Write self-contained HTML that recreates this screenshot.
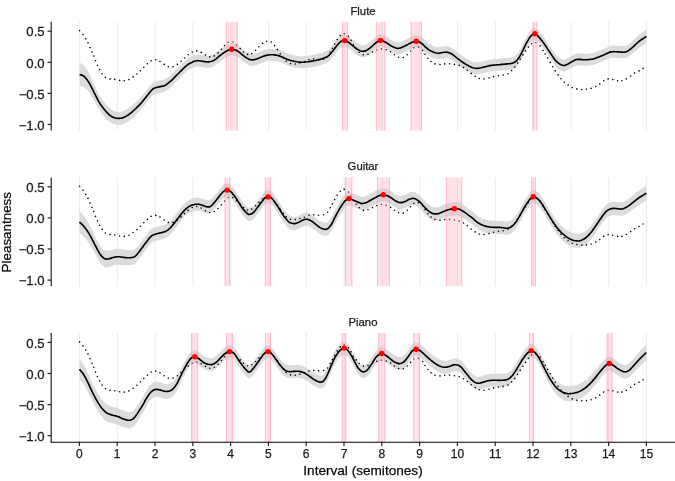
<!DOCTYPE html>
<html><head><meta charset="utf-8"><style>
html,body{margin:0;padding:0;background:#fff;}
svg{display:block;} svg text{stroke:#1a1a1a;stroke-width:0.25px;} svg{font-family:"Liberation Sans",sans-serif;filter:blur(0.3px);}
</style></head><body>
<svg width="675" height="481" viewBox="0 0 675 481">
<rect width="675" height="481" fill="#fff"/>
<defs><clipPath id="c0"><rect x="79.40" y="21.80" width="567.00" height="108.80"/></clipPath><clipPath id="c1"><rect x="79.40" y="177.40" width="567.00" height="108.80"/></clipPath><clipPath id="c2"><rect x="79.40" y="333.00" width="567.00" height="108.80"/></clipPath></defs>
<line x1="79.55" y1="21.80" x2="79.55" y2="130.60" stroke="#ededed" stroke-width="1.1"/>
<line x1="117.35" y1="21.80" x2="117.35" y2="130.60" stroke="#ededed" stroke-width="1.1"/>
<line x1="155.15" y1="21.80" x2="155.15" y2="130.60" stroke="#ededed" stroke-width="1.1"/>
<line x1="192.95" y1="21.80" x2="192.95" y2="130.60" stroke="#ededed" stroke-width="1.1"/>
<line x1="230.75" y1="21.80" x2="230.75" y2="130.60" stroke="#ededed" stroke-width="1.1"/>
<line x1="268.55" y1="21.80" x2="268.55" y2="130.60" stroke="#ededed" stroke-width="1.1"/>
<line x1="306.35" y1="21.80" x2="306.35" y2="130.60" stroke="#ededed" stroke-width="1.1"/>
<line x1="344.15" y1="21.80" x2="344.15" y2="130.60" stroke="#ededed" stroke-width="1.1"/>
<line x1="381.95" y1="21.80" x2="381.95" y2="130.60" stroke="#ededed" stroke-width="1.1"/>
<line x1="419.75" y1="21.80" x2="419.75" y2="130.60" stroke="#ededed" stroke-width="1.1"/>
<line x1="457.55" y1="21.80" x2="457.55" y2="130.60" stroke="#ededed" stroke-width="1.1"/>
<line x1="495.35" y1="21.80" x2="495.35" y2="130.60" stroke="#ededed" stroke-width="1.1"/>
<line x1="533.15" y1="21.80" x2="533.15" y2="130.60" stroke="#ededed" stroke-width="1.1"/>
<line x1="570.95" y1="21.80" x2="570.95" y2="130.60" stroke="#ededed" stroke-width="1.1"/>
<line x1="608.75" y1="21.80" x2="608.75" y2="130.60" stroke="#ededed" stroke-width="1.1"/>
<line x1="646.55" y1="21.80" x2="646.55" y2="130.60" stroke="#ededed" stroke-width="1.1"/>
<path d="M79.6,63.0 L80.1,63.2 L80.9,63.4 L81.7,63.8 L82.6,64.3 L83.4,64.9 L84.1,65.5 L84.7,66.3 L85.3,67.1 L86.0,68.0 L86.6,69.0 L87.3,70.0 L87.9,71.1 L88.6,72.3 L89.2,73.6 L89.9,74.9 L90.5,76.3 L91.2,77.7 L91.8,79.2 L92.5,80.7 L93.1,82.2 L93.8,83.6 L94.4,85.1 L95.1,86.5 L95.7,87.9 L96.4,89.3 L97.0,90.6 L97.6,91.8 L98.2,93.0 L98.9,94.2 L99.6,95.4 L100.4,96.6 L101.2,97.9 L102.1,99.1 L103.0,100.4 L103.9,101.5 L104.8,102.7 L105.7,103.8 L106.5,104.9 L107.4,105.9 L108.3,106.8 L109.1,107.6 L110.0,108.4 L110.8,109.1 L111.7,109.8 L112.6,110.3 L113.6,110.8 L114.7,111.2 L115.8,111.6 L116.9,111.8 L118.0,111.9 L119.1,111.9 L120.2,111.9 L121.2,111.7 L122.3,111.5 L123.4,111.1 L124.5,110.7 L125.6,110.1 L126.6,109.5 L127.7,108.8 L128.8,108.0 L129.9,107.2 L131.0,106.3 L132.2,105.4 L133.2,104.4 L134.2,103.6 L135.1,102.8 L135.9,102.1 L136.6,101.3 L137.3,100.6 L138.0,99.9 L138.7,99.3 L139.3,98.7 L139.9,98.1 L140.6,97.4 L141.4,96.4 L142.4,95.3 L143.5,93.9 L144.7,92.4 L145.9,90.8 L147.1,89.4 L148.3,87.9 L149.5,86.4 L150.7,84.9 L151.9,83.6 L153.1,82.5 L154.3,81.8 L155.5,81.4 L156.6,81.1 L157.8,80.9 L159.0,80.6 L160.2,80.3 L161.4,80.1 L162.5,79.9 L163.7,79.6 L164.9,79.2 L166.1,78.5 L167.3,77.7 L168.5,76.7 L169.7,75.7 L170.9,74.7 L172.1,73.6 L173.3,72.4 L174.5,71.2 L175.7,70.0 L176.8,68.9 L177.9,67.9 L178.9,66.9 L179.8,65.9 L180.8,65.0 L181.7,64.1 L182.6,63.3 L183.4,62.4 L184.3,61.5 L185.1,60.7 L186.0,60.0 L186.9,59.3 L187.7,58.6 L188.6,58.0 L189.6,57.4 L190.6,56.9 L191.8,56.4 L193.0,55.8 L194.3,55.3 L195.6,55.0 L196.8,54.7 L197.9,54.6 L198.9,54.7 L200.0,54.9 L201.0,55.0 L202.1,55.2 L203.3,55.4 L204.5,55.6 L205.8,55.8 L207.1,55.9 L208.3,55.9 L209.5,55.7 L210.7,55.5 L211.9,55.1 L213.0,54.7 L214.1,54.2 L215.1,53.6 L216.0,52.9 L216.9,52.1 L217.8,51.3 L218.9,50.4 L220.1,49.5 L221.5,48.4 L222.9,47.4 L224.3,46.4 L225.6,45.6 L226.9,44.9 L228.1,44.3 L229.4,43.8 L230.6,43.5 L231.8,43.3 L233.0,43.4 L234.3,43.7 L235.5,44.1 L236.6,44.6 L237.6,45.1 L238.4,45.6 L239.1,46.1 L239.7,46.6 L240.4,47.2 L241.1,47.8 L241.9,48.5 L242.8,49.2 L243.7,49.9 L244.6,50.7 L245.6,51.3 L246.6,51.9 L247.7,52.5 L248.7,53.1 L249.8,53.5 L250.9,53.8 L251.9,53.9 L252.9,53.9 L254.0,53.7 L255.0,53.4 L256.2,53.1 L257.5,52.7 L259.0,52.1 L260.5,51.4 L262.0,50.8 L263.3,50.3 L264.4,49.9 L265.4,49.6 L266.3,49.4 L267.1,49.2 L268.0,49.0 L268.8,48.9 L269.6,48.8 L270.3,48.7 L271.2,48.7 L272.1,48.7 L273.2,48.8 L274.5,48.9 L275.8,49.1 L277.1,49.3 L278.3,49.6 L279.3,49.9 L280.2,50.2 L281.0,50.5 L281.9,50.9 L282.8,51.3 L283.8,51.7 L284.8,52.2 L285.9,52.7 L287.0,53.2 L288.1,53.6 L289.3,54.0 L290.5,54.4 L291.8,54.7 L293.0,55.0 L294.3,55.3 L295.6,55.5 L296.9,55.8 L298.1,56.0 L299.4,56.1 L300.6,56.2 L301.7,56.2 L302.7,56.2 L303.7,56.2 L304.7,56.1 L305.9,56.0 L307.2,55.8 L308.7,55.6 L310.2,55.4 L311.7,55.1 L313.0,54.9 L314.2,54.7 L315.3,54.5 L316.3,54.2 L317.3,54.0 L318.3,53.8 L319.2,53.6 L320.0,53.4 L320.8,53.2 L321.6,52.9 L322.5,52.6 L323.5,52.2 L324.6,51.8 L325.7,51.4 L326.7,50.9 L327.6,50.4 L328.3,49.9 L329.0,49.4 L329.5,48.8 L330.0,48.2 L330.6,47.6 L331.2,47.0 L331.7,46.3 L332.2,45.6 L332.8,44.9 L333.5,44.0 L334.3,43.0 L335.2,41.8 L336.1,40.6 L337.0,39.4 L337.8,38.4 L338.6,37.6 L339.3,36.9 L339.9,36.2 L340.6,35.7 L341.3,35.3 L342.0,35.0 L342.7,34.7 L343.3,34.6 L344.0,34.6 L344.7,34.6 L345.4,34.7 L346.1,35.0 L346.8,35.3 L347.6,35.7 L348.4,36.2 L349.3,36.8 L350.1,37.5 L351.1,38.3 L352.0,39.1 L352.9,39.8 L353.8,40.5 L354.7,41.3 L355.5,42.0 L356.4,42.7 L357.3,43.3 L358.2,43.8 L359.1,44.3 L360.0,44.7 L360.9,45.0 L361.8,45.2 L362.7,45.3 L363.5,45.3 L364.4,45.1 L365.3,44.9 L366.2,44.5 L367.2,43.9 L368.3,43.2 L369.5,42.4 L370.6,41.5 L371.6,40.7 L372.5,39.9 L373.4,39.0 L374.3,38.2 L375.1,37.4 L376.0,36.7 L376.9,36.1 L377.8,35.5 L378.6,35.0 L379.6,34.7 L380.5,34.5 L381.5,34.6 L382.5,34.8 L383.6,35.2 L384.6,35.7 L385.7,36.2 L386.7,36.8 L387.8,37.6 L388.8,38.3 L389.9,39.1 L391.0,39.8 L392.2,40.4 L393.5,41.1 L394.7,41.6 L396.0,42.1 L397.2,42.3 L398.3,42.3 L399.4,42.2 L400.5,41.9 L401.5,41.5 L402.6,41.1 L403.7,40.6 L404.8,40.1 L405.8,39.5 L406.9,38.9 L407.9,38.4 L408.8,37.9 L409.7,37.4 L410.6,37.0 L411.5,36.5 L412.3,36.2 L413.1,35.9 L413.9,35.6 L414.7,35.4 L415.4,35.3 L416.3,35.3 L417.2,35.4 L418.2,35.7 L419.2,36.0 L420.2,36.5 L421.2,37.1 L422.3,37.9 L423.3,38.9 L424.5,40.0 L425.5,41.1 L426.6,42.0 L427.6,42.8 L428.5,43.5 L429.4,44.1 L430.4,44.7 L431.5,45.2 L432.7,45.7 L433.9,46.2 L435.2,46.7 L436.6,47.0 L438.0,47.2 L439.5,47.1 L441.2,46.8 L442.9,46.5 L444.5,46.2 L446.0,46.1 L447.4,46.3 L448.6,46.6 L449.8,47.1 L451.0,47.6 L452.2,48.3 L453.4,49.1 L454.6,50.1 L455.8,51.1 L457.1,52.2 L458.4,53.2 L459.8,54.2 L461.2,55.2 L462.7,56.2 L464.2,57.2 L465.6,58.1 L467.1,59.0 L468.5,59.8 L470.0,60.5 L471.4,61.2 L472.7,61.7 L473.9,62.0 L474.9,62.2 L476.0,62.3 L477.0,62.3 L478.0,62.3 L479.0,62.2 L480.1,62.0 L481.1,61.8 L482.2,61.5 L483.3,61.2 L484.6,60.9 L485.9,60.6 L487.3,60.2 L488.7,59.9 L490.0,59.6 L491.3,59.4 L492.4,59.3 L493.7,59.1 L494.9,59.0 L496.4,58.9 L498.1,58.7 L500.0,58.6 L502.0,58.4 L503.9,58.3 L505.6,58.1 L507.1,57.9 L508.6,57.8 L510.0,57.6 L511.2,57.4 L512.4,57.1 L513.5,56.7 L514.4,56.3 L515.3,55.8 L516.1,55.2 L517.0,54.3 L517.9,53.1 L518.8,51.8 L519.8,50.2 L520.7,48.6 L521.6,46.9 L522.5,45.1 L523.4,43.3 L524.3,41.3 L525.2,39.5 L526.1,37.7 L527.0,36.0 L528.0,34.4 L528.9,32.8 L529.8,31.4 L530.7,30.3 L531.6,29.4 L532.4,28.6 L533.2,28.1 L534.0,27.8 L534.9,27.8 L535.8,28.2 L536.8,28.9 L537.9,29.9 L538.9,31.1 L539.9,32.2 L540.9,33.4 L541.9,34.7 L543.0,36.1 L544.0,37.6 L545.0,39.0 L546.0,40.4 L546.9,41.9 L547.9,43.4 L548.9,44.9 L550.0,46.5 L551.2,48.2 L552.4,50.1 L553.7,52.0 L554.9,53.7 L556.2,55.2 L557.5,56.4 L558.8,57.4 L560.1,58.2 L561.3,58.9 L562.5,59.3 L563.6,59.5 L564.6,59.4 L565.5,59.1 L566.4,58.7 L567.4,58.3 L568.4,57.8 L569.4,57.2 L570.4,56.6 L571.4,56.0 L572.4,55.4 L573.4,54.9 L574.3,54.4 L575.2,53.9 L576.2,53.5 L577.4,53.3 L578.7,53.3 L580.2,53.4 L581.8,53.6 L583.4,53.7 L584.9,53.8 L586.4,53.7 L588.0,53.6 L589.6,53.5 L591.1,53.3 L592.4,53.1 L593.5,52.9 L594.4,52.6 L595.2,52.3 L596.1,51.9 L597.0,51.6 L598.0,51.3 L598.9,50.9 L599.9,50.5 L601.0,50.1 L602.3,49.6 L603.8,48.9 L605.6,48.1 L607.5,47.2 L609.3,46.4 L611.0,45.9 L612.5,45.6 L614.0,45.6 L615.4,45.7 L616.9,45.8 L618.3,45.8 L619.8,45.8 L621.3,45.9 L622.8,46.0 L624.2,45.9 L625.6,45.7 L626.8,45.3 L628.0,44.7 L629.0,43.9 L630.2,43.0 L631.4,42.0 L632.8,40.8 L634.2,39.4 L635.7,37.9 L637.2,36.4 L638.7,35.1 L640.3,33.7 L642.1,32.4 L643.9,31.2 L645.3,30.2 L646.4,29.5 L646.4,43.3 L645.3,44.0 L643.9,44.9 L642.1,46.0 L640.3,47.2 L638.7,48.3 L637.2,49.5 L635.7,50.9 L634.2,52.2 L632.8,53.5 L631.4,54.6 L630.2,55.5 L629.0,56.3 L628.0,57.1 L626.8,57.7 L625.6,58.1 L624.2,58.3 L622.8,58.3 L621.3,58.2 L619.8,58.1 L618.3,58.0 L616.9,57.9 L615.4,57.8 L614.0,57.7 L612.5,57.7 L611.0,57.9 L609.3,58.4 L607.5,59.2 L605.6,60.1 L603.8,60.9 L602.3,61.6 L601.0,62.1 L599.9,62.5 L598.9,62.9 L598.0,63.3 L597.0,63.6 L596.1,63.9 L595.2,64.3 L594.4,64.6 L593.5,64.9 L592.4,65.1 L591.1,65.3 L589.6,65.5 L588.0,65.6 L586.4,65.7 L584.9,65.8 L583.4,65.7 L581.8,65.6 L580.2,65.4 L578.7,65.3 L577.4,65.3 L576.2,65.5 L575.2,65.9 L574.3,66.4 L573.4,66.9 L572.4,67.4 L571.4,68.0 L570.4,68.6 L569.4,69.2 L568.4,69.8 L567.4,70.3 L566.4,70.7 L565.5,71.1 L564.6,71.4 L563.6,71.5 L562.5,71.3 L561.3,70.9 L560.1,70.2 L558.8,69.4 L557.5,68.4 L556.2,67.2 L554.9,65.7 L553.7,64.0 L552.4,62.1 L551.2,60.2 L550.0,58.5 L548.9,56.9 L547.9,55.4 L546.9,53.9 L546.0,52.4 L545.0,51.0 L544.0,49.6 L543.0,48.1 L541.9,46.7 L540.9,45.4 L539.9,44.2 L538.9,43.1 L537.9,41.9 L536.8,40.9 L535.8,40.2 L534.9,39.8 L534.0,39.8 L533.2,40.1 L532.4,40.6 L531.6,41.4 L530.7,42.3 L529.8,43.4 L528.9,44.8 L528.0,46.4 L527.0,48.0 L526.1,49.7 L525.2,51.5 L524.3,53.3 L523.4,55.3 L522.5,57.1 L521.6,58.9 L520.7,60.6 L519.8,62.2 L518.8,63.8 L517.9,65.1 L517.0,66.3 L516.1,67.2 L515.3,67.8 L514.4,68.3 L513.5,68.7 L512.4,69.1 L511.2,69.4 L510.0,69.6 L508.6,69.8 L507.1,69.9 L505.6,70.1 L503.9,70.3 L502.0,70.4 L500.0,70.6 L498.1,70.7 L496.4,70.9 L494.9,71.0 L493.7,71.1 L492.4,71.3 L491.3,71.4 L490.0,71.6 L488.7,71.9 L487.3,72.2 L485.9,72.6 L484.6,72.9 L483.3,73.2 L482.2,73.5 L481.1,73.8 L480.1,74.0 L479.0,74.2 L478.0,74.3 L477.0,74.3 L476.0,74.3 L474.9,74.2 L473.9,74.0 L472.7,73.7 L471.4,73.2 L470.0,72.5 L468.5,71.8 L467.1,71.0 L465.6,70.1 L464.2,69.2 L462.7,68.2 L461.2,67.2 L459.8,66.2 L458.4,65.2 L457.1,64.2 L455.8,63.1 L454.6,62.1 L453.4,61.1 L452.2,60.3 L451.0,59.6 L449.8,59.1 L448.6,58.6 L447.4,58.3 L446.0,58.1 L444.5,58.2 L442.9,58.5 L441.2,58.8 L439.5,59.1 L438.0,59.2 L436.6,59.0 L435.2,58.7 L433.9,58.2 L432.7,57.7 L431.5,57.2 L430.4,56.7 L429.4,56.1 L428.5,55.5 L427.6,54.8 L426.6,54.0 L425.5,53.1 L424.5,52.0 L423.3,50.9 L422.3,49.9 L421.2,49.1 L420.2,48.5 L419.2,48.0 L418.2,47.7 L417.2,47.4 L416.3,47.3 L415.4,47.3 L414.7,47.4 L413.9,47.6 L413.1,47.9 L412.3,48.2 L411.5,48.5 L410.6,49.0 L409.7,49.4 L408.8,49.9 L407.9,50.4 L406.9,50.9 L405.8,51.5 L404.8,52.1 L403.7,52.6 L402.6,53.1 L401.5,53.5 L400.5,53.9 L399.4,54.2 L398.3,54.3 L397.2,54.3 L396.0,54.1 L394.7,53.6 L393.5,53.1 L392.2,52.4 L391.0,51.8 L389.9,51.1 L388.8,50.3 L387.8,49.6 L386.7,48.8 L385.7,48.2 L384.6,47.7 L383.6,47.2 L382.5,46.8 L381.5,46.6 L380.5,46.5 L379.6,46.7 L378.6,47.0 L377.8,47.5 L376.9,48.1 L376.0,48.7 L375.1,49.4 L374.3,50.2 L373.4,51.0 L372.5,51.9 L371.6,52.7 L370.6,53.5 L369.5,54.4 L368.3,55.2 L367.2,55.9 L366.2,56.5 L365.3,56.9 L364.4,57.1 L363.5,57.3 L362.7,57.3 L361.8,57.2 L360.9,57.0 L360.0,56.7 L359.1,56.3 L358.2,55.8 L357.3,55.3 L356.4,54.7 L355.5,54.0 L354.7,53.3 L353.8,52.5 L352.9,51.8 L352.0,51.1 L351.1,50.3 L350.1,49.5 L349.3,48.8 L348.4,48.2 L347.6,47.7 L346.8,47.3 L346.1,47.0 L345.4,46.7 L344.7,46.6 L344.0,46.6 L343.3,46.6 L342.7,46.7 L342.0,47.0 L341.3,47.3 L340.6,47.7 L339.9,48.2 L339.3,48.9 L338.6,49.6 L337.8,50.4 L337.0,51.4 L336.1,52.6 L335.2,53.8 L334.3,55.0 L333.5,56.0 L332.8,56.9 L332.2,57.6 L331.7,58.3 L331.2,59.0 L330.6,59.6 L330.0,60.2 L329.5,60.8 L329.0,61.4 L328.3,61.9 L327.6,62.4 L326.7,62.9 L325.7,63.4 L324.6,63.8 L323.5,64.2 L322.5,64.6 L321.6,64.9 L320.8,65.2 L320.0,65.4 L319.2,65.6 L318.3,65.8 L317.3,66.0 L316.3,66.2 L315.3,66.5 L314.2,66.7 L313.0,66.9 L311.7,67.1 L310.2,67.4 L308.7,67.6 L307.2,67.8 L305.9,68.0 L304.7,68.1 L303.7,68.2 L302.7,68.2 L301.7,68.2 L300.6,68.2 L299.4,68.1 L298.1,68.0 L296.9,67.8 L295.6,67.5 L294.3,67.3 L293.0,67.0 L291.8,66.7 L290.5,66.4 L289.3,66.0 L288.1,65.6 L287.0,65.2 L285.9,64.7 L284.8,64.2 L283.8,63.7 L282.8,63.3 L281.9,62.9 L281.0,62.5 L280.2,62.2 L279.3,61.9 L278.3,61.6 L277.1,61.3 L275.8,61.1 L274.5,60.9 L273.2,60.8 L272.1,60.7 L271.2,60.7 L270.3,60.7 L269.6,60.8 L268.8,60.9 L268.0,61.0 L267.1,61.2 L266.3,61.4 L265.4,61.6 L264.4,61.9 L263.3,62.3 L262.0,62.8 L260.5,63.4 L259.0,64.1 L257.5,64.7 L256.2,65.1 L255.0,65.4 L254.0,65.7 L252.9,65.9 L251.9,65.9 L250.9,65.8 L249.8,65.5 L248.7,65.1 L247.7,64.5 L246.6,63.9 L245.6,63.3 L244.6,62.7 L243.7,61.9 L242.8,61.2 L241.9,60.5 L241.1,59.8 L240.4,59.2 L239.7,58.6 L239.1,58.1 L238.4,57.6 L237.6,57.1 L236.6,56.6 L235.5,56.1 L234.3,55.7 L233.0,55.4 L231.8,55.3 L230.6,55.5 L229.4,55.8 L228.1,56.3 L226.9,56.9 L225.6,57.6 L224.3,58.4 L222.9,59.4 L221.5,60.4 L220.1,61.5 L218.9,62.4 L217.8,63.3 L216.9,64.1 L216.0,64.9 L215.1,65.6 L214.1,66.2 L213.0,66.7 L211.9,67.1 L210.7,67.5 L209.5,67.7 L208.3,67.9 L207.1,67.9 L205.8,67.8 L204.5,67.6 L203.3,67.4 L202.1,67.2 L201.0,67.0 L200.0,66.9 L198.9,66.7 L197.9,66.6 L196.8,66.7 L195.6,67.0 L194.3,67.3 L193.0,67.8 L191.8,68.4 L190.6,68.9 L189.6,69.5 L188.6,70.0 L187.7,70.7 L186.9,71.3 L186.0,72.0 L185.1,72.8 L184.3,73.6 L183.4,74.5 L182.6,75.4 L181.7,76.3 L180.8,77.2 L179.8,78.1 L178.9,79.1 L177.9,80.1 L176.8,81.1 L175.7,82.3 L174.5,83.5 L173.3,84.7 L172.1,86.0 L170.9,87.1 L169.7,88.1 L168.5,89.2 L167.3,90.1 L166.1,91.0 L164.9,91.6 L163.7,92.1 L162.5,92.5 L161.4,92.7 L160.2,92.9 L159.0,93.2 L157.8,93.5 L156.6,93.7 L155.5,94.0 L154.3,94.4 L153.1,95.1 L151.9,96.2 L150.7,97.5 L149.5,99.0 L148.3,100.5 L147.1,102.0 L145.9,103.5 L144.7,105.0 L143.5,106.6 L142.4,108.0 L141.4,109.2 L140.6,110.1 L139.9,110.8 L139.3,111.4 L138.7,112.0 L138.0,112.7 L137.3,113.4 L136.6,114.1 L135.9,114.9 L135.1,115.6 L134.2,116.4 L133.2,117.3 L132.2,118.2 L131.0,119.2 L129.9,120.1 L128.8,121.0 L127.7,121.7 L126.6,122.4 L125.6,123.1 L124.5,123.6 L123.4,124.1 L122.3,124.4 L121.2,124.7 L120.2,124.8 L119.1,124.9 L118.0,124.9 L116.9,124.8 L115.8,124.6 L114.7,124.3 L113.6,124.0 L112.6,123.7 L111.7,123.2 L110.8,122.7 L110.0,122.1 L109.1,121.5 L108.3,120.8 L107.4,120.0 L106.5,119.2 L105.7,118.2 L104.8,117.3 L103.9,116.3 L103.0,115.2 L102.1,114.1 L101.2,112.9 L100.4,111.8 L99.6,110.6 L98.9,109.4 L98.2,108.2 L97.6,107.1 L97.0,105.9 L96.4,104.7 L95.7,103.5 L95.1,102.3 L94.4,101.1 L93.8,100.0 L93.1,98.8 L92.5,97.7 L91.8,96.5 L91.2,95.4 L90.5,94.3 L89.9,93.3 L89.2,92.4 L88.6,91.6 L87.9,90.8 L87.3,90.1 L86.6,89.4 L86.0,88.8 L85.3,88.3 L84.7,87.8 L84.1,87.3 L83.4,86.9 L82.6,86.7 L81.7,86.5 L80.9,86.3 L80.1,86.1 L79.6,86.0 Z" fill="#dbdbdb" clip-path="url(#c0)"/>
<g fill="#000"><circle cx="79.6" cy="30.6" r="0.8"/><circle cx="83.0" cy="34.6" r="0.8"/><circle cx="85.7" cy="38.8" r="0.8"/><circle cx="88.0" cy="42.8" r="0.8"/><circle cx="90.0" cy="47.5" r="0.8"/><circle cx="92.0" cy="51.9" r="0.8"/><circle cx="93.8" cy="56.0" r="0.8"/><circle cx="95.5" cy="60.8" r="0.8"/><circle cx="97.4" cy="65.3" r="0.8"/><circle cx="99.6" cy="69.6" r="0.8"/><circle cx="102.1" cy="73.8" r="0.8"/><circle cx="105.4" cy="77.4" r="0.8"/><circle cx="110.0" cy="78.9" r="0.8"/><circle cx="114.7" cy="79.4" r="0.8"/><circle cx="119.6" cy="80.4" r="0.8"/><circle cx="124.3" cy="80.8" r="0.8"/><circle cx="128.9" cy="79.6" r="0.8"/><circle cx="133.1" cy="76.9" r="0.8"/><circle cx="136.9" cy="74.0" r="0.8"/><circle cx="140.4" cy="70.7" r="0.8"/><circle cx="143.8" cy="67.2" r="0.8"/><circle cx="147.4" cy="63.8" r="0.8"/><circle cx="151.1" cy="60.8" r="0.8"/><circle cx="155.8" cy="59.8" r="0.8"/><circle cx="160.0" cy="61.5" r="0.8"/><circle cx="164.2" cy="64.4" r="0.8"/><circle cx="168.3" cy="66.8" r="0.8"/><circle cx="173.0" cy="66.8" r="0.8"/><circle cx="177.4" cy="64.4" r="0.8"/><circle cx="181.0" cy="61.3" r="0.8"/><circle cx="184.6" cy="58.0" r="0.8"/><circle cx="188.2" cy="54.8" r="0.8"/><circle cx="192.2" cy="52.0" r="0.8"/><circle cx="196.8" cy="50.9" r="0.8"/><circle cx="201.2" cy="52.4" r="0.8"/><circle cx="205.5" cy="55.1" r="0.8"/><circle cx="209.8" cy="56.9" r="0.8"/><circle cx="214.2" cy="55.9" r="0.8"/><circle cx="218.0" cy="52.9" r="0.8"/><circle cx="221.4" cy="49.2" r="0.8"/><circle cx="224.5" cy="45.5" r="0.8"/><circle cx="228.2" cy="42.2" r="0.8"/><circle cx="232.9" cy="42.0" r="0.8"/><circle cx="236.4" cy="45.1" r="0.8"/><circle cx="240.2" cy="48.6" r="0.8"/><circle cx="243.5" cy="52.0" r="0.8"/><circle cx="247.5" cy="54.4" r="0.8"/><circle cx="251.8" cy="53.5" r="0.8"/><circle cx="255.6" cy="50.2" r="0.8"/><circle cx="258.9" cy="46.8" r="0.8"/><circle cx="262.6" cy="43.4" r="0.8"/><circle cx="266.7" cy="41.2" r="0.8"/><circle cx="271.2" cy="42.0" r="0.8"/><circle cx="274.6" cy="45.6" r="0.8"/><circle cx="277.4" cy="49.6" r="0.8"/><circle cx="280.3" cy="53.8" r="0.8"/><circle cx="283.2" cy="57.8" r="0.8"/><circle cx="286.2" cy="61.3" r="0.8"/><circle cx="290.5" cy="63.6" r="0.8"/><circle cx="295.2" cy="64.0" r="0.8"/><circle cx="299.9" cy="62.9" r="0.8"/><circle cx="304.4" cy="61.6" r="0.8"/><circle cx="309.0" cy="59.7" r="0.8"/><circle cx="313.7" cy="59.1" r="0.8"/><circle cx="318.5" cy="59.6" r="0.8"/><circle cx="323.6" cy="59.2" r="0.8"/><circle cx="327.6" cy="56.7" r="0.8"/><circle cx="330.2" cy="52.2" r="0.8"/><circle cx="332.4" cy="48.3" r="0.8"/><circle cx="334.7" cy="44.0" r="0.8"/><circle cx="337.2" cy="39.6" r="0.8"/><circle cx="340.3" cy="35.6" r="0.8"/><circle cx="344.2" cy="33.8" r="0.8"/><circle cx="348.4" cy="36.4" r="0.8"/><circle cx="351.1" cy="40.4" r="0.8"/><circle cx="353.3" cy="44.9" r="0.8"/><circle cx="356.2" cy="48.6" r="0.8"/><circle cx="359.2" cy="52.2" r="0.8"/><circle cx="363.3" cy="54.8" r="0.8"/><circle cx="368.0" cy="54.2" r="0.8"/><circle cx="372.4" cy="52.0" r="0.8"/><circle cx="376.8" cy="50.0" r="0.8"/><circle cx="381.4" cy="48.9" r="0.8"/><circle cx="386.1" cy="49.8" r="0.8"/><circle cx="390.6" cy="51.8" r="0.8"/><circle cx="394.4" cy="54.7" r="0.8"/><circle cx="398.6" cy="57.2" r="0.8"/><circle cx="403.3" cy="57.5" r="0.8"/><circle cx="407.2" cy="54.7" r="0.8"/><circle cx="410.6" cy="51.1" r="0.8"/><circle cx="413.8" cy="47.7" r="0.8"/><circle cx="418.4" cy="47.1" r="0.8"/><circle cx="422.6" cy="50.2" r="0.8"/><circle cx="425.0" cy="54.2" r="0.8"/><circle cx="427.9" cy="58.2" r="0.8"/><circle cx="431.0" cy="61.5" r="0.8"/><circle cx="435.0" cy="63.9" r="0.8"/><circle cx="440.0" cy="64.6" r="0.8"/><circle cx="444.7" cy="63.9" r="0.8"/><circle cx="449.6" cy="63.8" r="0.8"/><circle cx="454.4" cy="64.4" r="0.8"/><circle cx="459.2" cy="65.4" r="0.8"/><circle cx="463.5" cy="67.4" r="0.8"/><circle cx="467.3" cy="70.2" r="0.8"/><circle cx="471.2" cy="73.4" r="0.8"/><circle cx="475.2" cy="76.3" r="0.8"/><circle cx="479.3" cy="78.5" r="0.8"/><circle cx="484.0" cy="79.0" r="0.8"/><circle cx="489.0" cy="78.0" r="0.8"/><circle cx="493.6" cy="76.6" r="0.8"/><circle cx="498.5" cy="75.7" r="0.8"/><circle cx="503.1" cy="75.1" r="0.8"/><circle cx="507.9" cy="73.7" r="0.8"/><circle cx="511.6" cy="70.6" r="0.8"/><circle cx="514.7" cy="67.1" r="0.8"/><circle cx="517.6" cy="63.1" r="0.8"/><circle cx="520.2" cy="59.1" r="0.8"/><circle cx="522.9" cy="54.9" r="0.8"/><circle cx="525.6" cy="51.1" r="0.8"/><circle cx="528.4" cy="47.1" r="0.8"/><circle cx="531.6" cy="43.7" r="0.8"/><circle cx="535.9" cy="42.8" r="0.8"/><circle cx="540.1" cy="45.8" r="0.8"/><circle cx="543.0" cy="50.5" r="0.8"/><circle cx="545.2" cy="54.0" r="0.8"/><circle cx="547.7" cy="58.1" r="0.8"/><circle cx="550.2" cy="62.4" r="0.8"/><circle cx="552.7" cy="66.8" r="0.8"/><circle cx="555.2" cy="70.9" r="0.8"/><circle cx="558.1" cy="74.9" r="0.8"/><circle cx="561.0" cy="78.7" r="0.8"/><circle cx="564.3" cy="82.2" r="0.8"/><circle cx="568.1" cy="85.1" r="0.8"/><circle cx="572.2" cy="87.6" r="0.8"/><circle cx="576.8" cy="88.9" r="0.8"/><circle cx="581.8" cy="89.5" r="0.8"/><circle cx="586.4" cy="89.3" r="0.8"/><circle cx="591.1" cy="88.4" r="0.8"/><circle cx="595.8" cy="86.5" r="0.8"/><circle cx="599.7" cy="84.0" r="0.8"/><circle cx="603.7" cy="80.8" r="0.8"/><circle cx="608.1" cy="78.9" r="0.8"/><circle cx="612.8" cy="79.6" r="0.8"/><circle cx="617.6" cy="80.8" r="0.8"/><circle cx="621.9" cy="80.8" r="0.8"/><circle cx="626.3" cy="78.9" r="0.8"/><circle cx="630.7" cy="76.0" r="0.8"/><circle cx="634.6" cy="73.1" r="0.8"/><circle cx="639.0" cy="70.9" r="0.8"/><circle cx="643.1" cy="68.4" r="0.8"/></g>
<rect x="226.30" y="21.80" width="11.00" height="108.80" fill="#ffadbb" fill-opacity="0.35"/>
<path d="M226.30,21.80V130.60M237.30,21.80V130.60" stroke="rgba(255,150,175,0.6)" stroke-width="1"/>
<rect x="342.40" y="21.80" width="5.20" height="108.80" fill="#ffadbb" fill-opacity="0.35"/>
<path d="M342.40,21.80V130.60M347.60,21.80V130.60" stroke="rgba(255,150,175,0.6)" stroke-width="1"/>
<rect x="376.30" y="21.80" width="8.50" height="108.80" fill="#ffadbb" fill-opacity="0.35"/>
<path d="M376.30,21.80V130.60M384.80,21.80V130.60" stroke="rgba(255,150,175,0.6)" stroke-width="1"/>
<rect x="411.00" y="21.80" width="10.40" height="108.80" fill="#ffadbb" fill-opacity="0.35"/>
<path d="M411.00,21.80V130.60M421.40,21.80V130.60" stroke="rgba(255,150,175,0.6)" stroke-width="1"/>
<rect x="533.00" y="21.80" width="4.00" height="108.80" fill="#ffadbb" fill-opacity="0.35"/>
<path d="M533.00,21.80V130.60M537.00,21.80V130.60" stroke="rgba(255,150,175,0.6)" stroke-width="1"/>
<path d="M79.6,74.5 L80.1,74.7 L80.9,74.9 L81.7,75.1 L82.6,75.5 L83.4,75.9 L84.1,76.4 L84.7,77.0 L85.3,77.7 L86.0,78.4 L86.6,79.2 L87.3,80.1 L87.9,81.0 L88.6,82.0 L89.2,83.0 L89.9,84.1 L90.5,85.3 L91.2,86.5 L91.8,87.9 L92.5,89.2 L93.1,90.5 L93.8,91.8 L94.4,93.1 L95.1,94.4 L95.7,95.7 L96.4,97.0 L97.0,98.2 L97.6,99.4 L98.2,100.6 L98.9,101.8 L99.6,103.0 L100.4,104.2 L101.2,105.4 L102.1,106.6 L103.0,107.8 L103.9,108.9 L104.8,110.0 L105.7,111.0 L106.5,112.0 L107.4,112.9 L108.3,113.8 L109.1,114.6 L110.0,115.3 L110.8,115.9 L111.7,116.5 L112.6,117.0 L113.6,117.4 L114.7,117.8 L115.8,118.1 L116.9,118.3 L118.0,118.4 L119.1,118.4 L120.2,118.3 L121.2,118.2 L122.3,117.9 L123.4,117.6 L124.5,117.1 L125.6,116.6 L126.6,116.0 L127.7,115.2 L128.8,114.5 L129.9,113.7 L131.0,112.8 L132.2,111.8 L133.2,110.9 L134.2,110.0 L135.1,109.2 L135.9,108.5 L136.6,107.7 L137.3,107.0 L138.0,106.3 L138.7,105.6 L139.3,105.1 L139.9,104.4 L140.6,103.7 L141.4,102.8 L142.4,101.6 L143.5,100.2 L144.7,98.7 L145.9,97.2 L147.1,95.7 L148.3,94.2 L149.5,92.7 L150.7,91.2 L151.9,89.9 L153.1,88.8 L154.3,88.1 L155.5,87.7 L156.6,87.4 L157.8,87.2 L159.0,86.9 L160.2,86.6 L161.4,86.4 L162.5,86.2 L163.7,85.9 L164.9,85.4 L166.1,84.7 L167.3,83.9 L168.5,82.9 L169.7,81.9 L170.9,80.9 L172.1,79.8 L173.3,78.6 L174.5,77.3 L175.7,76.1 L176.8,75.0 L177.9,74.0 L178.9,73.0 L179.8,72.0 L180.8,71.1 L181.7,70.2 L182.6,69.3 L183.4,68.4 L184.3,67.6 L185.1,66.8 L186.0,66.0 L186.9,65.3 L187.7,64.6 L188.6,64.0 L189.6,63.4 L190.6,62.9 L191.8,62.4 L193.0,61.8 L194.3,61.3 L195.6,61.0 L196.8,60.7 L197.9,60.6 L198.9,60.7 L200.0,60.9 L201.0,61.0 L202.1,61.2 L203.3,61.4 L204.5,61.6 L205.8,61.8 L207.1,61.9 L208.3,61.9 L209.5,61.7 L210.7,61.5 L211.9,61.1 L213.0,60.7 L214.1,60.2 L215.1,59.6 L216.0,58.9 L216.9,58.1 L217.8,57.3 L218.9,56.4 L220.1,55.5 L221.5,54.4 L222.9,53.4 L224.3,52.4 L225.6,51.6 L226.9,50.9 L228.1,50.3 L229.4,49.8 L230.6,49.5 L231.8,49.3 L233.0,49.4 L234.3,49.7 L235.5,50.1 L236.6,50.6 L237.6,51.1 L238.4,51.6 L239.1,52.1 L239.7,52.6 L240.4,53.2 L241.1,53.8 L241.9,54.5 L242.8,55.2 L243.7,55.9 L244.6,56.7 L245.6,57.3 L246.6,57.9 L247.7,58.5 L248.7,59.1 L249.8,59.5 L250.9,59.8 L251.9,59.9 L252.9,59.9 L254.0,59.7 L255.0,59.4 L256.2,59.1 L257.5,58.7 L259.0,58.1 L260.5,57.4 L262.0,56.8 L263.3,56.3 L264.4,55.9 L265.4,55.6 L266.3,55.4 L267.1,55.2 L268.0,55.0 L268.8,54.9 L269.6,54.8 L270.3,54.7 L271.2,54.7 L272.1,54.7 L273.2,54.8 L274.5,54.9 L275.8,55.1 L277.1,55.3 L278.3,55.6 L279.3,55.9 L280.2,56.2 L281.0,56.5 L281.9,56.9 L282.8,57.3 L283.8,57.7 L284.8,58.2 L285.9,58.7 L287.0,59.2 L288.1,59.6 L289.3,60.0 L290.5,60.4 L291.8,60.7 L293.0,61.0 L294.3,61.3 L295.6,61.5 L296.9,61.8 L298.1,62.0 L299.4,62.1 L300.6,62.2 L301.7,62.2 L302.7,62.2 L303.7,62.2 L304.7,62.1 L305.9,62.0 L307.2,61.8 L308.7,61.6 L310.2,61.4 L311.7,61.1 L313.0,60.9 L314.2,60.7 L315.3,60.5 L316.3,60.2 L317.3,60.0 L318.3,59.8 L319.2,59.6 L320.0,59.4 L320.8,59.2 L321.6,58.9 L322.5,58.6 L323.5,58.2 L324.6,57.8 L325.7,57.4 L326.7,56.9 L327.6,56.4 L328.3,55.9 L329.0,55.4 L329.5,54.8 L330.0,54.2 L330.6,53.6 L331.2,53.0 L331.7,52.3 L332.2,51.6 L332.8,50.9 L333.5,50.0 L334.3,49.0 L335.2,47.8 L336.1,46.6 L337.0,45.4 L337.8,44.4 L338.6,43.6 L339.3,42.9 L339.9,42.2 L340.6,41.7 L341.3,41.3 L342.0,41.0 L342.7,40.7 L343.3,40.6 L344.0,40.6 L344.7,40.6 L345.4,40.7 L346.1,41.0 L346.8,41.3 L347.6,41.7 L348.4,42.2 L349.3,42.8 L350.1,43.5 L351.1,44.3 L352.0,45.1 L352.9,45.8 L353.8,46.5 L354.7,47.3 L355.5,48.0 L356.4,48.7 L357.3,49.3 L358.2,49.8 L359.1,50.3 L360.0,50.7 L360.9,51.0 L361.8,51.2 L362.7,51.3 L363.5,51.3 L364.4,51.1 L365.3,50.9 L366.2,50.5 L367.2,49.9 L368.3,49.2 L369.5,48.4 L370.6,47.5 L371.6,46.7 L372.5,45.9 L373.4,45.0 L374.3,44.2 L375.1,43.4 L376.0,42.7 L376.9,42.1 L377.8,41.5 L378.6,41.0 L379.6,40.7 L380.5,40.5 L381.5,40.6 L382.5,40.8 L383.6,41.2 L384.6,41.7 L385.7,42.2 L386.7,42.8 L387.8,43.6 L388.8,44.3 L389.9,45.1 L391.0,45.8 L392.2,46.4 L393.5,47.1 L394.7,47.6 L396.0,48.1 L397.2,48.3 L398.3,48.3 L399.4,48.2 L400.5,47.9 L401.5,47.5 L402.6,47.1 L403.7,46.6 L404.8,46.1 L405.8,45.5 L406.9,44.9 L407.9,44.4 L408.8,43.9 L409.7,43.4 L410.6,43.0 L411.5,42.5 L412.3,42.2 L413.1,41.9 L413.9,41.6 L414.7,41.4 L415.4,41.3 L416.3,41.3 L417.2,41.4 L418.2,41.7 L419.2,42.0 L420.2,42.5 L421.2,43.1 L422.3,43.9 L423.3,44.9 L424.5,46.0 L425.5,47.1 L426.6,48.0 L427.6,48.8 L428.5,49.5 L429.4,50.1 L430.4,50.7 L431.5,51.2 L432.7,51.7 L433.9,52.2 L435.2,52.7 L436.6,53.0 L438.0,53.2 L439.5,53.1 L441.2,52.8 L442.9,52.5 L444.5,52.2 L446.0,52.1 L447.4,52.3 L448.6,52.6 L449.8,53.1 L451.0,53.6 L452.2,54.3 L453.4,55.1 L454.6,56.1 L455.8,57.1 L457.1,58.2 L458.4,59.2 L459.8,60.2 L461.2,61.2 L462.7,62.2 L464.2,63.2 L465.6,64.1 L467.1,65.0 L468.5,65.8 L470.0,66.5 L471.4,67.2 L472.7,67.7 L473.9,68.0 L474.9,68.2 L476.0,68.3 L477.0,68.3 L478.0,68.3 L479.0,68.2 L480.1,68.0 L481.1,67.8 L482.2,67.5 L483.3,67.2 L484.6,66.9 L485.9,66.6 L487.3,66.2 L488.7,65.9 L490.0,65.6 L491.3,65.4 L492.4,65.3 L493.7,65.1 L494.9,65.0 L496.4,64.9 L498.1,64.7 L500.0,64.6 L502.0,64.4 L503.9,64.3 L505.6,64.1 L507.1,63.9 L508.6,63.8 L510.0,63.6 L511.2,63.4 L512.4,63.1 L513.5,62.7 L514.4,62.3 L515.3,61.8 L516.1,61.2 L517.0,60.3 L517.9,59.1 L518.8,57.8 L519.8,56.2 L520.7,54.6 L521.6,52.9 L522.5,51.1 L523.4,49.3 L524.3,47.3 L525.2,45.5 L526.1,43.7 L527.0,42.0 L528.0,40.4 L528.9,38.8 L529.8,37.4 L530.7,36.3 L531.6,35.4 L532.4,34.6 L533.2,34.1 L534.0,33.8 L534.9,33.8 L535.8,34.2 L536.8,34.9 L537.9,35.9 L538.9,37.1 L539.9,38.2 L540.9,39.4 L541.9,40.7 L543.0,42.1 L544.0,43.6 L545.0,45.0 L546.0,46.4 L546.9,47.9 L547.9,49.4 L548.9,50.9 L550.0,52.5 L551.2,54.2 L552.4,56.1 L553.7,58.0 L554.9,59.7 L556.2,61.2 L557.5,62.4 L558.8,63.4 L560.1,64.2 L561.3,64.9 L562.5,65.3 L563.6,65.5 L564.6,65.4 L565.5,65.1 L566.4,64.7 L567.4,64.3 L568.4,63.8 L569.4,63.2 L570.4,62.6 L571.4,62.0 L572.4,61.4 L573.4,60.9 L574.3,60.4 L575.2,59.9 L576.2,59.5 L577.4,59.3 L578.7,59.3 L580.2,59.4 L581.8,59.6 L583.4,59.7 L584.9,59.8 L586.4,59.7 L588.0,59.6 L589.6,59.5 L591.1,59.3 L592.4,59.1 L593.5,58.9 L594.4,58.6 L595.2,58.3 L596.1,57.9 L597.0,57.6 L598.0,57.3 L598.9,56.9 L599.9,56.5 L601.0,56.1 L602.3,55.6 L603.8,54.9 L605.6,54.1 L607.5,53.2 L609.3,52.4 L611.0,51.9 L612.5,51.7 L614.0,51.6 L615.4,51.7 L616.9,51.8 L618.3,51.9 L619.8,52.0 L621.3,52.1 L622.8,52.2 L624.2,52.1 L625.6,51.9 L626.8,51.5 L628.0,50.9 L629.0,50.1 L630.2,49.3 L631.4,48.3 L632.8,47.2 L634.2,45.8 L635.7,44.4 L637.2,43.0 L638.7,41.7 L640.3,40.5 L642.1,39.2 L643.9,38.1 L645.3,37.1 L646.4,36.4" fill="none" stroke="#000" stroke-width="1.65" stroke-linejoin="round"/>
<circle cx="231.80" cy="49.30" r="2.7" fill="#ff0000"/>
<circle cx="344.70" cy="40.60" r="2.7" fill="#ff0000"/>
<circle cx="380.50" cy="40.40" r="2.7" fill="#ff0000"/>
<circle cx="416.30" cy="41.30" r="2.7" fill="#ff0000"/>
<circle cx="534.90" cy="33.80" r="2.7" fill="#ff0000"/>
<line x1="51.20" y1="21.80" x2="51.20" y2="130.60" stroke="#222" stroke-width="1.2"/>
<line x1="47.60" y1="31.20" x2="51.20" y2="31.20" stroke="#222" stroke-width="1.2"/>
<text transform="translate(44.60,36.40) scale(1.06,1)" text-anchor="end" font-size="12.4" fill="#1a1a1a">0.5</text>
<line x1="47.60" y1="62.30" x2="51.20" y2="62.30" stroke="#222" stroke-width="1.2"/>
<text transform="translate(44.60,67.50) scale(1.06,1)" text-anchor="end" font-size="12.4" fill="#1a1a1a">0.0</text>
<line x1="47.60" y1="93.40" x2="51.20" y2="93.40" stroke="#222" stroke-width="1.2"/>
<text transform="translate(44.60,98.60) scale(1.06,1)" text-anchor="end" font-size="12.4" fill="#1a1a1a">−0.5</text>
<line x1="47.60" y1="124.50" x2="51.20" y2="124.50" stroke="#222" stroke-width="1.2"/>
<text transform="translate(44.60,129.70) scale(1.06,1)" text-anchor="end" font-size="12.4" fill="#1a1a1a">−1.0</text>
<text x="363" y="15.00" text-anchor="middle" font-size="11.3" fill="#1a1a1a">Flute</text>
<line x1="79.55" y1="177.40" x2="79.55" y2="286.20" stroke="#ededed" stroke-width="1.1"/>
<line x1="117.35" y1="177.40" x2="117.35" y2="286.20" stroke="#ededed" stroke-width="1.1"/>
<line x1="155.15" y1="177.40" x2="155.15" y2="286.20" stroke="#ededed" stroke-width="1.1"/>
<line x1="192.95" y1="177.40" x2="192.95" y2="286.20" stroke="#ededed" stroke-width="1.1"/>
<line x1="230.75" y1="177.40" x2="230.75" y2="286.20" stroke="#ededed" stroke-width="1.1"/>
<line x1="268.55" y1="177.40" x2="268.55" y2="286.20" stroke="#ededed" stroke-width="1.1"/>
<line x1="306.35" y1="177.40" x2="306.35" y2="286.20" stroke="#ededed" stroke-width="1.1"/>
<line x1="344.15" y1="177.40" x2="344.15" y2="286.20" stroke="#ededed" stroke-width="1.1"/>
<line x1="381.95" y1="177.40" x2="381.95" y2="286.20" stroke="#ededed" stroke-width="1.1"/>
<line x1="419.75" y1="177.40" x2="419.75" y2="286.20" stroke="#ededed" stroke-width="1.1"/>
<line x1="457.55" y1="177.40" x2="457.55" y2="286.20" stroke="#ededed" stroke-width="1.1"/>
<line x1="495.35" y1="177.40" x2="495.35" y2="286.20" stroke="#ededed" stroke-width="1.1"/>
<line x1="533.15" y1="177.40" x2="533.15" y2="286.20" stroke="#ededed" stroke-width="1.1"/>
<line x1="570.95" y1="177.40" x2="570.95" y2="286.20" stroke="#ededed" stroke-width="1.1"/>
<line x1="608.75" y1="177.40" x2="608.75" y2="286.20" stroke="#ededed" stroke-width="1.1"/>
<line x1="646.55" y1="177.40" x2="646.55" y2="286.20" stroke="#ededed" stroke-width="1.1"/>
<path d="M79.4,211.3 L79.8,211.7 L80.4,212.2 L81.1,212.8 L81.8,213.5 L82.5,214.3 L83.2,215.0 L83.8,215.9 L84.5,216.8 L85.2,217.7 L85.9,218.7 L86.6,219.7 L87.2,220.8 L87.9,221.9 L88.5,223.1 L89.2,224.3 L89.9,225.5 L90.6,226.9 L91.2,228.2 L91.9,229.6 L92.6,231.0 L93.3,232.4 L94.0,233.9 L94.6,235.3 L95.3,236.7 L96.0,238.1 L96.7,239.5 L97.3,240.8 L98.0,242.1 L98.7,243.3 L99.3,244.4 L99.9,245.3 L100.5,246.1 L101.0,246.9 L101.6,247.5 L102.2,248.2 L102.8,248.8 L103.5,249.4 L104.1,249.9 L104.8,250.3 L105.5,250.6 L106.2,250.7 L107.0,250.7 L107.8,250.7 L108.7,250.5 L109.5,250.4 L110.4,250.2 L111.3,250.0 L112.2,249.7 L113.1,249.5 L114.0,249.3 L114.9,249.1 L115.8,248.9 L116.6,248.8 L117.5,248.7 L118.4,248.7 L119.3,248.8 L120.2,248.9 L121.1,249.1 L122.0,249.3 L122.9,249.5 L123.8,249.6 L124.7,249.7 L125.6,249.9 L126.5,250.0 L127.4,250.1 L128.3,250.2 L129.3,250.2 L130.2,250.2 L131.1,250.2 L131.9,250.1 L132.6,250.0 L133.3,249.9 L134.0,249.7 L134.6,249.4 L135.3,248.9 L136.0,248.2 L136.8,247.4 L137.5,246.5 L138.3,245.5 L139.1,244.5 L139.9,243.5 L140.7,242.5 L141.5,241.4 L142.3,240.3 L143.1,239.2 L143.9,238.1 L144.7,237.0 L145.6,235.9 L146.4,234.9 L147.2,233.9 L148.0,232.8 L148.8,231.8 L149.6,230.9 L150.4,230.0 L151.2,229.3 L152.0,228.7 L152.8,228.2 L153.7,227.9 L154.5,227.6 L155.3,227.3 L156.1,227.0 L156.9,226.8 L157.6,226.6 L158.5,226.4 L159.3,226.2 L160.2,226.0 L161.2,225.8 L162.2,225.6 L163.2,225.3 L164.1,225.0 L164.9,224.7 L165.8,224.4 L166.5,224.1 L167.3,223.6 L168.1,223.1 L168.9,222.4 L169.7,221.7 L170.6,220.8 L171.4,219.9 L172.2,219.0 L173.0,218.1 L173.8,217.1 L174.6,216.1 L175.4,215.0 L176.2,214.0 L177.0,212.9 L177.8,211.8 L178.7,210.7 L179.5,209.7 L180.3,208.6 L181.1,207.6 L181.9,206.6 L182.6,205.7 L183.5,204.8 L184.3,203.9 L185.2,203.0 L186.2,202.1 L187.2,201.3 L188.1,200.5 L189.1,199.9 L190.0,199.4 L190.9,199.0 L191.8,198.6 L192.7,198.3 L193.6,198.1 L194.5,197.9 L195.4,197.7 L196.2,197.6 L197.1,197.6 L198.0,197.6 L198.9,197.7 L199.8,197.9 L200.6,198.2 L201.5,198.4 L202.4,198.7 L203.3,199.0 L204.2,199.4 L205.2,199.7 L206.1,200.0 L206.9,200.2 L207.7,200.3 L208.4,200.3 L209.0,200.3 L209.7,200.1 L210.4,199.8 L211.1,199.3 L211.8,198.7 L212.6,197.9 L213.3,197.1 L214.0,196.3 L214.7,195.5 L215.4,194.6 L216.2,193.6 L216.9,192.7 L217.6,191.8 L218.3,190.9 L219.0,190.0 L219.7,189.1 L220.4,188.2 L221.1,187.4 L221.7,186.7 L222.4,186.0 L223.0,185.3 L223.6,184.8 L224.2,184.3 L224.8,183.9 L225.4,183.7 L226.1,183.5 L226.7,183.4 L227.3,183.4 L227.9,183.5 L228.5,183.7 L229.2,183.9 L229.8,184.3 L230.4,184.7 L231.0,185.3 L231.7,185.9 L232.3,186.7 L232.9,187.5 L233.6,188.3 L234.3,189.2 L235.0,190.1 L235.7,191.1 L236.4,192.1 L237.1,193.2 L237.8,194.3 L238.5,195.5 L239.3,196.7 L240.0,197.9 L240.7,199.0 L241.4,200.0 L242.1,201.1 L242.8,202.0 L243.5,203.0 L244.2,203.8 L244.9,204.6 L245.6,205.3 L246.3,206.0 L246.9,206.5 L247.5,207.0 L248.0,207.4 L248.3,207.6 L248.7,207.8 L249.0,207.8 L249.5,207.8 L250.1,207.7 L250.7,207.5 L251.5,207.3 L252.2,206.9 L253.0,206.3 L253.8,205.5 L254.7,204.5 L255.6,203.3 L256.5,202.1 L257.4,201.0 L258.2,199.9 L259.0,198.8 L259.8,197.7 L260.6,196.6 L261.4,195.6 L262.2,194.6 L262.9,193.6 L263.6,192.7 L264.3,191.8 L265.0,191.2 L265.6,190.8 L266.3,190.5 L266.8,190.3 L267.5,190.3 L268.1,190.3 L268.8,190.4 L269.5,190.5 L270.2,190.7 L271.0,191.1 L271.7,191.6 L272.4,192.3 L273.1,193.1 L273.8,194.1 L274.5,195.1 L275.2,196.1 L275.9,197.1 L276.6,198.1 L277.4,199.2 L278.1,200.3 L278.8,201.4 L279.5,202.5 L280.2,203.7 L280.9,204.9 L281.6,206.1 L282.3,207.2 L283.0,208.3 L283.7,209.3 L284.5,210.3 L285.2,211.2 L285.9,212.1 L286.6,212.9 L287.3,213.7 L287.9,214.4 L288.6,215.1 L289.4,215.6 L290.2,216.1 L291.1,216.4 L292.1,216.7 L293.0,216.9 L293.9,217.0 L294.8,217.0 L295.7,216.8 L296.5,216.6 L297.4,216.2 L298.3,215.9 L299.2,215.5 L300.2,214.9 L301.1,214.3 L302.1,213.8 L303.0,213.4 L303.9,213.1 L304.7,212.9 L305.6,212.7 L306.4,212.6 L307.3,212.7 L308.2,212.9 L309.1,213.2 L310.0,213.7 L311.0,214.2 L311.9,214.7 L312.8,215.3 L313.7,216.0 L314.7,216.8 L315.6,217.6 L316.5,218.3 L317.4,219.0 L318.3,219.7 L319.2,220.4 L320.1,221.0 L321.0,221.5 L321.9,221.9 L322.7,222.2 L323.6,222.5 L324.4,222.6 L325.2,222.7 L325.9,222.7 L326.6,222.5 L327.2,222.3 L327.8,222.0 L328.4,221.5 L329.0,220.9 L329.7,220.2 L330.3,219.3 L331.0,218.4 L331.6,217.4 L332.2,216.3 L332.9,215.0 L333.5,213.7 L334.1,212.3 L334.8,211.0 L335.5,209.7 L336.2,208.3 L336.9,206.9 L337.7,205.5 L338.4,204.2 L339.1,202.9 L339.9,201.7 L340.7,200.4 L341.4,199.3 L342.1,198.2 L342.8,197.2 L343.4,196.3 L344.0,195.5 L344.6,194.8 L345.3,194.1 L346.0,193.5 L346.7,193.0 L347.4,192.5 L348.2,192.2 L348.9,192.0 L349.6,192.0 L350.4,192.2 L351.1,192.5 L351.8,192.9 L352.6,193.2 L353.4,193.5 L354.2,193.9 L355.1,194.3 L355.9,194.7 L356.7,195.0 L357.4,195.3 L358.1,195.6 L358.8,195.8 L359.4,196.1 L360.0,196.3 L360.5,196.5 L360.8,196.7 L361.1,196.9 L361.5,197.0 L362.1,197.0 L362.8,196.9 L363.7,196.7 L364.7,196.5 L365.7,196.1 L366.6,195.8 L367.5,195.4 L368.4,194.9 L369.2,194.4 L370.1,193.9 L371.0,193.4 L371.9,192.9 L372.8,192.4 L373.7,191.9 L374.6,191.4 L375.4,191.0 L376.2,190.6 L376.9,190.2 L377.5,189.8 L378.2,189.5 L379.0,189.2 L379.8,188.9 L380.7,188.6 L381.6,188.3 L382.5,188.2 L383.4,188.1 L384.2,188.2 L385.0,188.3 L385.8,188.6 L386.6,188.9 L387.4,189.2 L388.2,189.6 L389.0,190.0 L389.8,190.4 L390.6,190.9 L391.4,191.4 L392.3,192.0 L393.2,192.7 L394.1,193.3 L395.0,194.0 L395.9,194.5 L396.8,194.9 L397.7,195.3 L398.5,195.7 L399.4,195.9 L400.3,196.0 L401.2,196.0 L402.1,195.8 L403.0,195.6 L403.9,195.3 L404.8,195.0 L405.7,194.6 L406.6,194.1 L407.4,193.6 L408.3,193.1 L409.2,192.7 L410.1,192.4 L411.0,192.1 L411.9,191.9 L412.8,191.8 L413.6,191.8 L414.4,191.9 L415.1,192.1 L415.7,192.4 L416.4,192.8 L417.1,193.2 L417.8,193.7 L418.5,194.2 L419.2,194.8 L419.9,195.5 L420.7,196.3 L421.5,197.2 L422.4,198.2 L423.3,199.2 L424.2,200.2 L425.1,201.2 L426.0,202.1 L426.9,203.0 L427.8,203.8 L428.7,204.5 L429.6,205.2 L430.5,205.8 L431.4,206.2 L432.2,206.7 L433.1,207.0 L434.0,207.2 L434.9,207.3 L435.8,207.4 L436.6,207.3 L437.5,207.2 L438.4,207.0 L439.3,206.7 L440.2,206.4 L441.1,206.0 L442.0,205.6 L442.9,205.2 L443.8,204.8 L444.7,204.4 L445.5,204.1 L446.4,203.7 L447.3,203.4 L448.2,203.1 L449.2,202.9 L450.1,202.6 L451.0,202.5 L451.8,202.3 L452.4,202.2 L452.9,202.1 L453.4,202.1 L453.8,202.1 L454.4,202.1 L455.1,202.1 L455.8,202.0 L456.5,202.0 L457.3,202.1 L458.0,202.2 L458.7,202.4 L459.4,202.7 L460.2,203.0 L460.9,203.4 L461.6,203.8 L462.3,204.2 L463.0,204.7 L463.7,205.1 L464.4,205.6 L465.1,206.1 L465.8,206.6 L466.5,207.1 L467.2,207.6 L468.0,208.2 L468.7,208.7 L469.4,209.2 L470.2,209.8 L471.0,210.3 L471.7,210.9 L472.5,211.5 L473.2,212.1 L474.0,212.8 L474.7,213.5 L475.5,214.2 L476.2,214.8 L477.0,215.4 L477.7,215.9 L478.5,216.4 L479.2,216.9 L480.0,217.3 L480.7,217.7 L481.4,218.1 L482.2,218.4 L482.9,218.7 L483.7,219.0 L484.6,219.3 L485.5,219.5 L486.5,219.8 L487.4,220.0 L488.4,220.2 L489.3,220.4 L490.3,220.5 L491.2,220.6 L492.2,220.6 L493.1,220.7 L494.0,220.7 L495.0,220.7 L495.9,220.7 L496.9,220.7 L497.8,220.7 L498.7,220.8 L499.7,220.8 L500.6,220.9 L501.6,221.0 L502.5,221.1 L503.4,221.2 L504.4,221.4 L505.3,221.5 L506.2,221.6 L507.1,221.6 L507.9,221.5 L508.7,221.3 L509.4,221.1 L510.2,220.8 L510.9,220.4 L511.6,219.9 L512.4,219.3 L513.1,218.7 L513.9,217.9 L514.6,217.1 L515.4,216.1 L516.1,215.1 L516.9,213.9 L517.6,212.7 L518.4,211.5 L519.2,210.2 L519.9,208.9 L520.7,207.5 L521.4,206.1 L522.1,204.9 L522.7,203.7 L523.4,202.6 L523.9,201.6 L524.5,200.6 L525.0,199.7 L525.5,198.9 L525.9,198.3 L526.3,197.8 L526.7,197.2 L527.2,196.5 L527.7,195.7 L528.3,194.8 L529.0,193.8 L529.6,192.9 L530.2,192.2 L530.8,191.6 L531.4,191.0 L532.0,190.6 L532.6,190.3 L533.3,190.1 L534.0,190.1 L534.7,190.3 L535.4,190.7 L536.2,191.1 L536.9,191.6 L537.6,192.2 L538.3,192.8 L539.1,193.6 L539.8,194.4 L540.5,195.3 L541.2,196.3 L541.9,197.3 L542.7,198.4 L543.4,199.6 L544.1,200.7 L544.8,201.9 L545.5,203.1 L546.3,204.3 L547.0,205.5 L547.7,206.7 L548.4,207.9 L549.1,209.1 L549.9,210.3 L550.6,211.5 L551.3,212.6 L552.0,213.7 L552.7,214.8 L553.5,215.9 L554.2,216.9 L554.9,217.9 L555.6,218.9 L556.3,219.9 L557.0,220.8 L557.8,221.8 L558.6,222.7 L559.5,223.7 L560.4,224.7 L561.4,225.6 L562.4,226.5 L563.4,227.4 L564.4,228.2 L565.3,228.9 L566.3,229.7 L567.2,230.3 L568.2,230.9 L569.2,231.5 L570.1,231.9 L571.1,232.4 L572.0,232.8 L573.0,233.1 L574.0,233.4 L575.0,233.6 L576.0,233.8 L577.0,233.9 L577.8,234.0 L578.5,234.0 L579.0,234.0 L579.4,234.0 L579.9,233.8 L580.6,233.6 L581.4,233.3 L582.4,232.9 L583.4,232.4 L584.5,231.8 L585.5,231.1 L586.5,230.3 L587.6,229.4 L588.6,228.3 L589.6,227.2 L590.7,226.0 L591.8,224.7 L592.8,223.3 L593.9,221.8 L594.9,220.3 L596.0,218.8 L597.0,217.3 L598.1,215.7 L599.1,214.1 L600.2,212.5 L601.2,211.0 L602.3,209.6 L603.3,208.2 L604.4,206.8 L605.4,205.6 L606.5,204.6 L607.5,203.8 L608.6,203.2 L609.6,202.7 L610.7,202.3 L611.7,202.0 L612.7,201.8 L613.8,201.8 L614.8,201.8 L615.9,201.9 L616.9,201.9 L618.0,202.0 L619.0,202.2 L620.1,202.3 L621.1,202.3 L622.2,202.2 L623.2,201.9 L624.3,201.5 L625.3,201.0 L626.4,200.4 L627.4,199.8 L628.5,199.1 L629.5,198.3 L630.6,197.5 L631.6,196.6 L632.7,195.8 L633.7,194.9 L634.8,194.0 L635.8,193.1 L636.9,192.2 L637.9,191.4 L639.0,190.5 L640.1,189.8 L641.2,189.0 L642.3,188.3 L643.2,187.7 L644.0,187.2 L644.8,186.8 L645.5,186.4 L646.0,186.0 L646.4,185.8 L646.4,200.6 L646.0,200.8 L645.5,201.1 L644.8,201.5 L644.0,202.0 L643.2,202.5 L642.3,203.0 L641.2,203.6 L640.1,204.3 L639.0,204.9 L637.9,205.6 L636.9,206.4 L635.8,207.2 L634.8,208.0 L633.7,208.8 L632.7,209.6 L631.6,210.4 L630.6,211.2 L629.5,212.0 L628.5,212.7 L627.4,213.4 L626.4,214.0 L625.3,214.6 L624.3,215.1 L623.2,215.5 L622.2,215.8 L621.1,215.8 L620.1,215.8 L619.0,215.6 L618.0,215.4 L616.9,215.3 L615.9,215.2 L614.8,215.1 L613.8,215.0 L612.7,215.1 L611.7,215.2 L610.7,215.5 L609.6,215.9 L608.6,216.4 L607.5,217.0 L606.5,217.8 L605.4,218.9 L604.4,220.1 L603.3,221.5 L602.3,222.9 L601.2,224.4 L600.2,225.9 L599.1,227.5 L598.1,229.2 L597.0,230.8 L596.0,232.4 L594.9,233.9 L593.9,235.4 L592.8,236.9 L591.8,238.3 L590.7,239.6 L589.6,240.8 L588.6,242.0 L587.6,243.1 L586.5,244.0 L585.5,244.9 L584.5,245.6 L583.4,246.3 L582.4,246.8 L581.4,247.2 L580.6,247.6 L579.9,247.8 L579.4,248.0 L579.0,248.0 L578.5,248.1 L577.8,248.0 L577.0,248.0 L576.0,247.9 L575.0,247.8 L574.0,247.6 L573.0,247.3 L572.0,247.0 L571.1,246.6 L570.1,246.1 L569.2,245.6 L568.2,245.1 L567.2,244.5 L566.3,243.8 L565.3,243.0 L564.4,242.2 L563.4,241.4 L562.4,240.5 L561.4,239.5 L560.4,238.5 L559.5,237.5 L558.6,236.5 L557.8,235.5 L557.0,234.5 L556.3,233.5 L555.6,232.5 L554.9,231.5 L554.2,230.4 L553.5,229.3 L552.7,228.2 L552.0,227.1 L551.3,226.0 L550.6,224.8 L549.9,223.6 L549.1,222.4 L548.4,221.1 L547.7,219.9 L547.0,218.7 L546.3,217.5 L545.5,216.3 L544.8,215.1 L544.1,213.9 L543.4,212.8 L542.7,211.6 L541.9,210.5 L541.2,209.5 L540.5,208.5 L539.8,207.6 L539.1,206.8 L538.3,206.0 L537.6,205.4 L536.9,204.8 L536.2,204.3 L535.4,203.9 L534.7,203.5 L534.0,203.3 L533.3,203.3 L532.6,203.5 L532.0,203.8 L531.4,204.2 L530.8,204.8 L530.2,205.4 L529.6,206.1 L529.0,207.0 L528.3,208.0 L527.7,208.9 L527.2,209.7 L526.7,210.4 L526.3,211.0 L525.9,211.5 L525.5,212.1 L525.0,212.9 L524.5,213.8 L523.9,214.8 L523.4,215.8 L522.7,216.9 L522.1,218.1 L521.4,219.3 L520.7,220.7 L519.9,222.1 L519.2,223.4 L518.4,224.7 L517.6,225.9 L516.9,227.1 L516.1,228.3 L515.4,229.3 L514.6,230.3 L513.9,231.1 L513.1,231.9 L512.4,232.5 L511.6,233.1 L510.9,233.6 L510.2,234.0 L509.4,234.3 L508.7,234.5 L507.9,234.7 L507.1,234.8 L506.2,234.8 L505.3,234.7 L504.4,234.6 L503.4,234.4 L502.5,234.3 L501.6,234.2 L500.6,234.1 L499.7,234.0 L498.7,234.0 L497.8,233.9 L496.9,233.9 L495.9,233.9 L495.0,233.9 L494.0,233.9 L493.1,233.9 L492.2,233.8 L491.2,233.8 L490.3,233.7 L489.3,233.6 L488.4,233.4 L487.4,233.2 L486.5,233.0 L485.5,232.7 L484.6,232.5 L483.7,232.2 L482.9,231.9 L482.2,231.6 L481.4,231.3 L480.7,230.9 L480.0,230.5 L479.2,230.1 L478.5,229.6 L477.7,229.1 L477.0,228.6 L476.2,228.0 L475.5,227.4 L474.7,226.7 L474.0,226.0 L473.2,225.3 L472.5,224.7 L471.7,224.1 L471.0,223.5 L470.2,223.0 L469.4,222.4 L468.7,221.9 L468.0,221.4 L467.2,220.8 L466.5,220.3 L465.8,219.8 L465.1,219.3 L464.4,218.8 L463.7,218.3 L463.0,217.9 L462.3,217.4 L461.6,217.0 L460.9,216.6 L460.2,216.2 L459.4,215.9 L458.7,215.6 L458.0,215.4 L457.3,215.3 L456.5,215.2 L455.8,215.2 L455.1,215.3 L454.4,215.3 L453.8,215.3 L453.4,215.3 L452.9,215.3 L452.4,215.4 L451.8,215.5 L451.0,215.7 L450.1,215.8 L449.2,216.1 L448.2,216.3 L447.3,216.6 L446.4,216.9 L445.5,217.3 L444.7,217.6 L443.8,218.0 L442.9,218.4 L442.0,218.8 L441.1,219.2 L440.2,219.6 L439.3,219.9 L438.4,220.2 L437.5,220.4 L436.6,220.5 L435.8,220.6 L434.9,220.5 L434.0,220.4 L433.1,220.2 L432.2,219.9 L431.4,219.4 L430.5,219.0 L429.6,218.4 L428.7,217.7 L427.8,217.0 L426.9,216.2 L426.0,215.3 L425.1,214.4 L424.2,213.4 L423.3,212.4 L422.4,211.4 L421.5,210.4 L420.7,209.5 L419.9,208.7 L419.2,208.0 L418.5,207.4 L417.8,206.9 L417.1,206.4 L416.4,206.0 L415.7,205.6 L415.1,205.3 L414.4,205.1 L413.6,205.0 L412.8,205.0 L411.9,205.1 L411.0,205.3 L410.1,205.6 L409.2,205.9 L408.3,206.3 L407.4,206.8 L406.6,207.3 L405.7,207.8 L404.8,208.2 L403.9,208.5 L403.0,208.8 L402.1,209.0 L401.2,209.2 L400.3,209.2 L399.4,209.1 L398.5,208.9 L397.7,208.5 L396.8,208.1 L395.9,207.7 L395.0,207.2 L394.1,206.5 L393.2,205.9 L392.3,205.2 L391.4,204.6 L390.6,204.1 L389.8,203.6 L389.0,203.2 L388.2,202.8 L387.4,202.4 L386.6,202.1 L385.8,201.8 L385.0,201.5 L384.2,201.4 L383.4,201.3 L382.5,201.4 L381.6,201.5 L380.7,201.8 L379.8,202.1 L379.0,202.4 L378.2,202.7 L377.5,203.0 L376.9,203.4 L376.2,203.8 L375.4,204.2 L374.6,204.6 L373.7,205.1 L372.8,205.6 L371.9,206.1 L371.0,206.6 L370.1,207.1 L369.2,207.6 L368.4,208.1 L367.5,208.6 L366.6,209.0 L365.7,209.3 L364.7,209.7 L363.7,209.9 L362.8,210.1 L362.1,210.2 L361.5,210.2 L361.1,210.1 L360.8,209.9 L360.5,209.7 L360.0,209.5 L359.4,209.3 L358.8,209.0 L358.1,208.8 L357.4,208.5 L356.7,208.2 L355.9,207.9 L355.1,207.5 L354.2,207.1 L353.4,206.7 L352.6,206.4 L351.8,206.1 L351.1,205.7 L350.4,205.4 L349.6,205.2 L348.9,205.2 L348.2,205.4 L347.4,205.7 L346.7,206.2 L346.0,206.7 L345.3,207.3 L344.6,208.0 L344.0,208.7 L343.4,209.5 L342.8,210.4 L342.1,211.4 L341.4,212.5 L340.7,213.6 L339.9,214.9 L339.1,216.1 L338.4,217.4 L337.7,218.7 L336.9,220.1 L336.2,221.5 L335.5,222.9 L334.8,224.2 L334.1,225.5 L333.5,226.9 L332.9,228.2 L332.2,229.5 L331.6,230.6 L331.0,231.6 L330.3,232.5 L329.7,233.4 L329.0,234.1 L328.4,234.7 L327.8,235.2 L327.2,235.5 L326.6,235.7 L325.9,235.9 L325.2,235.9 L324.4,235.8 L323.6,235.7 L322.7,235.4 L321.9,235.1 L321.0,234.7 L320.1,234.2 L319.2,233.6 L318.3,232.9 L317.4,232.2 L316.5,231.5 L315.6,230.8 L314.7,230.0 L313.7,229.2 L312.8,228.5 L311.9,227.9 L311.0,227.4 L310.0,226.9 L309.1,226.4 L308.2,226.1 L307.3,225.9 L306.4,225.8 L305.6,225.9 L304.7,226.1 L303.9,226.3 L303.0,226.6 L302.1,227.0 L301.1,227.5 L300.2,228.1 L299.2,228.7 L298.3,229.1 L297.4,229.4 L296.5,229.8 L295.7,230.0 L294.8,230.2 L293.9,230.2 L293.0,230.1 L292.1,229.9 L291.1,229.6 L290.2,229.3 L289.4,228.8 L288.6,228.3 L287.9,227.6 L287.3,226.9 L286.6,226.1 L285.9,225.3 L285.2,224.4 L284.5,223.5 L283.7,222.5 L283.0,221.5 L282.3,220.4 L281.6,219.3 L280.9,218.1 L280.2,216.9 L279.5,215.7 L278.8,214.6 L278.1,213.5 L277.4,212.4 L276.6,211.3 L275.9,210.3 L275.2,209.3 L274.5,208.3 L273.8,207.3 L273.1,206.3 L272.4,205.5 L271.7,204.8 L271.0,204.3 L270.2,203.9 L269.5,203.7 L268.8,203.6 L268.1,203.5 L267.5,203.5 L266.8,203.5 L266.3,203.7 L265.6,204.0 L265.0,204.4 L264.3,205.0 L263.6,205.9 L262.9,206.8 L262.2,207.8 L261.4,208.8 L260.6,209.8 L259.8,210.9 L259.0,212.0 L258.2,213.1 L257.4,214.2 L256.5,215.3 L255.6,216.5 L254.7,217.7 L253.8,218.7 L253.0,219.5 L252.2,220.1 L251.5,220.5 L250.7,220.7 L250.1,220.9 L249.5,221.0 L249.0,221.0 L248.7,221.0 L248.3,220.8 L248.0,220.6 L247.5,220.2 L246.9,219.7 L246.3,219.2 L245.6,218.5 L244.9,217.8 L244.2,217.0 L243.5,216.2 L242.8,215.2 L242.1,214.3 L241.4,213.2 L240.7,212.2 L240.0,211.1 L239.3,209.9 L238.5,208.7 L237.8,207.5 L237.1,206.4 L236.4,205.3 L235.7,204.3 L235.0,203.3 L234.3,202.4 L233.6,201.5 L232.9,200.7 L232.3,199.9 L231.7,199.1 L231.0,198.5 L230.4,197.9 L229.8,197.5 L229.2,197.1 L228.5,196.9 L227.9,196.7 L227.3,196.6 L226.7,196.6 L226.1,196.7 L225.4,196.9 L224.8,197.1 L224.2,197.5 L223.6,198.0 L223.0,198.5 L222.4,199.2 L221.7,199.9 L221.1,200.6 L220.4,201.4 L219.7,202.3 L219.0,203.2 L218.3,204.1 L217.6,205.0 L216.9,205.9 L216.2,206.8 L215.4,207.8 L214.7,208.7 L214.0,209.5 L213.3,210.3 L212.6,211.1 L211.8,211.9 L211.1,212.5 L210.4,213.0 L209.7,213.3 L209.0,213.5 L208.4,213.5 L207.7,213.5 L206.9,213.4 L206.1,213.2 L205.2,212.9 L204.2,212.6 L203.3,212.2 L202.4,211.9 L201.5,211.6 L200.6,211.4 L199.8,211.1 L198.9,210.9 L198.0,210.8 L197.1,210.8 L196.2,210.8 L195.4,210.9 L194.5,211.1 L193.6,211.3 L192.7,211.5 L191.8,211.8 L190.9,212.2 L190.0,212.6 L189.1,213.1 L188.1,213.8 L187.2,214.5 L186.2,215.4 L185.2,216.2 L184.3,217.1 L183.5,218.0 L182.6,219.0 L181.9,220.0 L181.1,221.0 L180.3,222.0 L179.5,223.0 L178.7,224.1 L177.8,225.2 L177.0,226.3 L176.2,227.4 L175.4,228.5 L174.6,229.6 L173.8,230.6 L173.0,231.6 L172.2,232.6 L171.4,233.5 L170.6,234.4 L169.7,235.3 L168.9,236.0 L168.1,236.7 L167.3,237.3 L166.5,237.7 L165.8,238.1 L164.9,238.4 L164.1,238.8 L163.2,239.1 L162.2,239.3 L161.2,239.5 L160.2,239.8 L159.3,240.0 L158.5,240.2 L157.6,240.4 L156.9,240.6 L156.1,240.8 L155.3,241.1 L154.5,241.4 L153.7,241.7 L152.8,242.1 L152.0,242.5 L151.2,243.1 L150.4,243.9 L149.6,244.8 L148.8,245.8 L148.0,246.9 L147.2,247.9 L146.4,249.0 L145.6,250.1 L144.7,251.3 L143.9,252.4 L143.1,253.6 L142.3,254.7 L141.5,255.8 L140.7,257.0 L139.9,258.0 L139.1,259.1 L138.3,260.1 L137.5,261.1 L136.8,262.0 L136.0,262.8 L135.3,263.5 L134.6,264.0 L134.0,264.3 L133.3,264.5 L132.6,264.7 L131.9,264.9 L131.1,265.0 L130.2,265.2 L129.3,265.2 L128.3,265.3 L127.4,265.3 L126.5,265.3 L125.6,265.3 L124.7,265.3 L123.8,265.2 L122.9,265.1 L122.0,265.1 L121.1,264.9 L120.2,264.8 L119.3,264.7 L118.4,264.7 L117.5,264.7 L116.6,264.8 L115.8,265.0 L114.9,265.1 L114.0,265.3 L113.1,265.6 L112.2,265.9 L111.3,266.3 L110.4,266.6 L109.5,266.8 L108.7,267.0 L107.8,267.3 L107.0,267.4 L106.2,267.5 L105.5,267.4 L104.8,267.2 L104.1,266.8 L103.5,266.3 L102.8,265.8 L102.2,265.2 L101.6,264.6 L101.0,264.0 L100.5,263.3 L99.9,262.5 L99.3,261.6 L98.7,260.5 L98.0,259.3 L97.3,258.1 L96.7,256.8 L96.0,255.5 L95.3,254.2 L94.6,252.9 L94.0,251.7 L93.3,250.4 L92.6,249.2 L91.9,248.0 L91.2,246.8 L90.6,245.7 L89.9,244.6 L89.2,243.5 L88.5,242.6 L87.9,241.6 L87.2,240.8 L86.6,239.9 L85.9,239.1 L85.2,238.3 L84.5,237.6 L83.8,236.9 L83.2,236.2 L82.5,235.5 L81.8,234.9 L81.1,234.3 L80.4,233.7 L79.8,233.3 L79.4,232.9 Z" fill="#dbdbdb" clip-path="url(#c1)"/>
<g fill="#000"><circle cx="79.6" cy="186.2" r="0.8"/><circle cx="83.0" cy="190.2" r="0.8"/><circle cx="85.7" cy="194.4" r="0.8"/><circle cx="88.0" cy="198.4" r="0.8"/><circle cx="90.0" cy="203.1" r="0.8"/><circle cx="92.0" cy="207.5" r="0.8"/><circle cx="93.8" cy="211.6" r="0.8"/><circle cx="95.5" cy="216.4" r="0.8"/><circle cx="97.4" cy="220.9" r="0.8"/><circle cx="99.6" cy="225.2" r="0.8"/><circle cx="102.1" cy="229.4" r="0.8"/><circle cx="105.4" cy="233.0" r="0.8"/><circle cx="110.0" cy="234.5" r="0.8"/><circle cx="114.7" cy="235.0" r="0.8"/><circle cx="119.6" cy="236.0" r="0.8"/><circle cx="124.3" cy="236.4" r="0.8"/><circle cx="128.9" cy="235.2" r="0.8"/><circle cx="133.1" cy="232.5" r="0.8"/><circle cx="136.9" cy="229.6" r="0.8"/><circle cx="140.4" cy="226.3" r="0.8"/><circle cx="143.8" cy="222.8" r="0.8"/><circle cx="147.4" cy="219.4" r="0.8"/><circle cx="151.1" cy="216.4" r="0.8"/><circle cx="155.8" cy="215.4" r="0.8"/><circle cx="160.0" cy="217.1" r="0.8"/><circle cx="164.2" cy="220.0" r="0.8"/><circle cx="168.3" cy="222.4" r="0.8"/><circle cx="173.0" cy="222.4" r="0.8"/><circle cx="177.4" cy="220.0" r="0.8"/><circle cx="181.0" cy="216.9" r="0.8"/><circle cx="184.6" cy="213.6" r="0.8"/><circle cx="188.2" cy="210.4" r="0.8"/><circle cx="192.2" cy="207.6" r="0.8"/><circle cx="196.8" cy="206.5" r="0.8"/><circle cx="201.2" cy="208.0" r="0.8"/><circle cx="205.5" cy="210.7" r="0.8"/><circle cx="209.8" cy="212.5" r="0.8"/><circle cx="214.2" cy="211.5" r="0.8"/><circle cx="218.0" cy="208.5" r="0.8"/><circle cx="221.4" cy="204.8" r="0.8"/><circle cx="224.5" cy="201.1" r="0.8"/><circle cx="228.2" cy="197.8" r="0.8"/><circle cx="232.9" cy="197.6" r="0.8"/><circle cx="236.4" cy="200.7" r="0.8"/><circle cx="240.2" cy="204.2" r="0.8"/><circle cx="243.5" cy="207.6" r="0.8"/><circle cx="247.5" cy="210.0" r="0.8"/><circle cx="251.8" cy="209.1" r="0.8"/><circle cx="255.6" cy="205.8" r="0.8"/><circle cx="258.9" cy="202.4" r="0.8"/><circle cx="262.6" cy="199.0" r="0.8"/><circle cx="266.7" cy="196.8" r="0.8"/><circle cx="271.2" cy="197.6" r="0.8"/><circle cx="274.6" cy="201.2" r="0.8"/><circle cx="277.4" cy="205.2" r="0.8"/><circle cx="280.3" cy="209.4" r="0.8"/><circle cx="283.2" cy="213.4" r="0.8"/><circle cx="286.2" cy="216.9" r="0.8"/><circle cx="290.5" cy="219.2" r="0.8"/><circle cx="295.2" cy="219.6" r="0.8"/><circle cx="299.9" cy="218.5" r="0.8"/><circle cx="304.4" cy="217.2" r="0.8"/><circle cx="309.0" cy="215.3" r="0.8"/><circle cx="313.7" cy="214.7" r="0.8"/><circle cx="318.5" cy="215.2" r="0.8"/><circle cx="323.6" cy="214.8" r="0.8"/><circle cx="327.6" cy="212.3" r="0.8"/><circle cx="330.2" cy="207.8" r="0.8"/><circle cx="332.4" cy="203.9" r="0.8"/><circle cx="334.7" cy="199.6" r="0.8"/><circle cx="337.2" cy="195.2" r="0.8"/><circle cx="340.3" cy="191.2" r="0.8"/><circle cx="344.2" cy="189.4" r="0.8"/><circle cx="348.4" cy="192.0" r="0.8"/><circle cx="351.1" cy="196.0" r="0.8"/><circle cx="353.3" cy="200.5" r="0.8"/><circle cx="356.2" cy="204.2" r="0.8"/><circle cx="359.2" cy="207.8" r="0.8"/><circle cx="363.3" cy="210.4" r="0.8"/><circle cx="368.0" cy="209.8" r="0.8"/><circle cx="372.4" cy="207.6" r="0.8"/><circle cx="376.8" cy="205.6" r="0.8"/><circle cx="381.4" cy="204.5" r="0.8"/><circle cx="386.1" cy="205.4" r="0.8"/><circle cx="390.6" cy="207.4" r="0.8"/><circle cx="394.4" cy="210.3" r="0.8"/><circle cx="398.6" cy="212.8" r="0.8"/><circle cx="403.3" cy="213.1" r="0.8"/><circle cx="407.2" cy="210.3" r="0.8"/><circle cx="410.6" cy="206.7" r="0.8"/><circle cx="413.8" cy="203.3" r="0.8"/><circle cx="418.4" cy="202.7" r="0.8"/><circle cx="422.6" cy="205.8" r="0.8"/><circle cx="425.0" cy="209.8" r="0.8"/><circle cx="427.9" cy="213.8" r="0.8"/><circle cx="431.0" cy="217.1" r="0.8"/><circle cx="435.0" cy="219.5" r="0.8"/><circle cx="440.0" cy="220.2" r="0.8"/><circle cx="444.7" cy="219.5" r="0.8"/><circle cx="449.6" cy="219.4" r="0.8"/><circle cx="454.4" cy="220.0" r="0.8"/><circle cx="459.2" cy="221.0" r="0.8"/><circle cx="463.5" cy="223.0" r="0.8"/><circle cx="467.3" cy="225.8" r="0.8"/><circle cx="471.2" cy="229.0" r="0.8"/><circle cx="475.2" cy="231.9" r="0.8"/><circle cx="479.3" cy="234.1" r="0.8"/><circle cx="484.0" cy="234.6" r="0.8"/><circle cx="489.0" cy="233.6" r="0.8"/><circle cx="493.6" cy="232.2" r="0.8"/><circle cx="498.5" cy="231.3" r="0.8"/><circle cx="503.1" cy="230.7" r="0.8"/><circle cx="507.9" cy="229.3" r="0.8"/><circle cx="511.6" cy="226.2" r="0.8"/><circle cx="514.7" cy="222.7" r="0.8"/><circle cx="517.6" cy="218.7" r="0.8"/><circle cx="520.2" cy="214.7" r="0.8"/><circle cx="522.9" cy="210.5" r="0.8"/><circle cx="525.6" cy="206.7" r="0.8"/><circle cx="528.4" cy="202.7" r="0.8"/><circle cx="531.6" cy="199.3" r="0.8"/><circle cx="535.9" cy="198.4" r="0.8"/><circle cx="540.1" cy="201.4" r="0.8"/><circle cx="543.0" cy="206.1" r="0.8"/><circle cx="545.2" cy="209.6" r="0.8"/><circle cx="547.7" cy="213.7" r="0.8"/><circle cx="550.2" cy="218.0" r="0.8"/><circle cx="552.7" cy="222.4" r="0.8"/><circle cx="555.2" cy="226.5" r="0.8"/><circle cx="558.1" cy="230.5" r="0.8"/><circle cx="561.0" cy="234.3" r="0.8"/><circle cx="564.3" cy="237.8" r="0.8"/><circle cx="568.1" cy="240.7" r="0.8"/><circle cx="572.2" cy="243.2" r="0.8"/><circle cx="576.8" cy="244.5" r="0.8"/><circle cx="581.8" cy="245.1" r="0.8"/><circle cx="586.4" cy="244.9" r="0.8"/><circle cx="591.1" cy="244.0" r="0.8"/><circle cx="595.8" cy="242.1" r="0.8"/><circle cx="599.7" cy="239.6" r="0.8"/><circle cx="603.7" cy="236.4" r="0.8"/><circle cx="608.1" cy="234.5" r="0.8"/><circle cx="612.8" cy="235.2" r="0.8"/><circle cx="617.6" cy="236.4" r="0.8"/><circle cx="621.9" cy="236.4" r="0.8"/><circle cx="626.3" cy="234.5" r="0.8"/><circle cx="630.7" cy="231.6" r="0.8"/><circle cx="634.6" cy="228.7" r="0.8"/><circle cx="639.0" cy="226.5" r="0.8"/><circle cx="643.1" cy="224.0" r="0.8"/></g>
<rect x="225.10" y="177.40" width="4.50" height="108.80" fill="#ffadbb" fill-opacity="0.35"/>
<path d="M225.10,177.40V286.20M229.60,177.40V286.20" stroke="rgba(255,150,175,0.6)" stroke-width="1"/>
<rect x="265.40" y="177.40" width="5.20" height="108.80" fill="#ffadbb" fill-opacity="0.35"/>
<path d="M265.40,177.40V286.20M270.60,177.40V286.20" stroke="rgba(255,150,175,0.6)" stroke-width="1"/>
<rect x="345.50" y="177.40" width="6.40" height="108.80" fill="#ffadbb" fill-opacity="0.35"/>
<path d="M345.50,177.40V286.20M351.90,177.40V286.20" stroke="rgba(255,150,175,0.6)" stroke-width="1"/>
<rect x="377.50" y="177.40" width="11.90" height="108.80" fill="#ffadbb" fill-opacity="0.35"/>
<path d="M377.50,177.40V286.20M389.40,177.40V286.20" stroke="rgba(255,150,175,0.6)" stroke-width="1"/>
<rect x="446.30" y="177.40" width="15.40" height="108.80" fill="#ffadbb" fill-opacity="0.35"/>
<path d="M446.30,177.40V286.20M461.70,177.40V286.20" stroke="rgba(255,150,175,0.6)" stroke-width="1"/>
<rect x="531.60" y="177.40" width="3.80" height="108.80" fill="#ffadbb" fill-opacity="0.35"/>
<path d="M531.60,177.40V286.20M535.40,177.40V286.20" stroke="rgba(255,150,175,0.6)" stroke-width="1"/>
<path d="M79.4,222.1 L79.8,222.5 L80.4,223.0 L81.1,223.6 L81.8,224.2 L82.5,224.9 L83.2,225.6 L83.8,226.4 L84.5,227.2 L85.2,228.0 L85.9,228.9 L86.6,229.8 L87.2,230.8 L87.9,231.8 L88.5,232.8 L89.2,233.9 L89.9,235.1 L90.6,236.3 L91.2,237.5 L91.9,238.8 L92.6,240.1 L93.3,241.4 L94.0,242.8 L94.6,244.1 L95.3,245.5 L96.0,246.8 L96.7,248.1 L97.3,249.4 L98.0,250.7 L98.7,251.9 L99.3,253.0 L99.9,253.9 L100.5,254.7 L101.0,255.4 L101.6,256.1 L102.2,256.7 L102.8,257.3 L103.5,257.9 L104.1,258.3 L104.8,258.7 L105.5,259.0 L106.2,259.1 L107.0,259.1 L107.8,259.0 L108.7,258.8 L109.5,258.6 L110.4,258.4 L111.3,258.1 L112.2,257.8 L113.1,257.5 L114.0,257.3 L114.9,257.1 L115.8,257.0 L116.6,256.8 L117.5,256.7 L118.4,256.7 L119.3,256.7 L120.2,256.9 L121.1,257.0 L122.0,257.2 L122.9,257.3 L123.8,257.4 L124.7,257.5 L125.6,257.6 L126.5,257.7 L127.4,257.7 L128.3,257.7 L129.3,257.7 L130.2,257.7 L131.1,257.6 L131.9,257.5 L132.6,257.4 L133.3,257.2 L134.0,257.0 L134.6,256.7 L135.3,256.2 L136.0,255.5 L136.8,254.7 L137.5,253.8 L138.3,252.8 L139.1,251.8 L139.9,250.8 L140.7,249.7 L141.5,248.6 L142.3,247.5 L143.1,246.4 L143.9,245.3 L144.7,244.2 L145.6,243.0 L146.4,242.0 L147.2,240.9 L148.0,239.9 L148.8,238.8 L149.6,237.8 L150.4,237.0 L151.2,236.2 L152.0,235.6 L152.8,235.2 L153.7,234.8 L154.5,234.5 L155.3,234.2 L156.1,233.9 L156.9,233.7 L157.6,233.5 L158.5,233.3 L159.3,233.1 L160.2,232.9 L161.2,232.7 L162.2,232.4 L163.2,232.2 L164.1,231.9 L164.9,231.6 L165.8,231.3 L166.5,230.9 L167.3,230.4 L168.1,229.9 L168.9,229.2 L169.7,228.5 L170.6,227.6 L171.4,226.7 L172.2,225.8 L173.0,224.8 L173.8,223.8 L174.6,222.8 L175.4,221.8 L176.2,220.7 L177.0,219.6 L177.8,218.5 L178.7,217.4 L179.5,216.3 L180.3,215.3 L181.1,214.3 L181.9,213.3 L182.6,212.3 L183.5,211.4 L184.3,210.5 L185.2,209.6 L186.2,208.7 L187.2,207.9 L188.1,207.1 L189.1,206.5 L190.0,206.0 L190.9,205.6 L191.8,205.2 L192.7,204.9 L193.6,204.7 L194.5,204.5 L195.4,204.3 L196.2,204.2 L197.1,204.2 L198.0,204.2 L198.9,204.3 L199.8,204.5 L200.6,204.8 L201.5,205.0 L202.4,205.3 L203.3,205.6 L204.2,206.0 L205.2,206.3 L206.1,206.6 L206.9,206.8 L207.7,206.9 L208.4,206.9 L209.0,206.9 L209.7,206.7 L210.4,206.4 L211.1,205.9 L211.8,205.3 L212.6,204.5 L213.3,203.7 L214.0,202.9 L214.7,202.1 L215.4,201.2 L216.2,200.2 L216.9,199.3 L217.6,198.4 L218.3,197.5 L219.0,196.6 L219.7,195.7 L220.4,194.8 L221.1,194.0 L221.7,193.3 L222.4,192.6 L223.0,191.9 L223.6,191.4 L224.2,190.9 L224.8,190.5 L225.4,190.3 L226.1,190.1 L226.7,190.0 L227.3,190.0 L227.9,190.1 L228.5,190.3 L229.2,190.5 L229.8,190.9 L230.4,191.3 L231.0,191.9 L231.7,192.5 L232.3,193.3 L232.9,194.1 L233.6,194.9 L234.3,195.8 L235.0,196.7 L235.7,197.7 L236.4,198.7 L237.1,199.8 L237.8,200.9 L238.5,202.1 L239.3,203.3 L240.0,204.5 L240.7,205.6 L241.4,206.6 L242.1,207.7 L242.8,208.6 L243.5,209.6 L244.2,210.4 L244.9,211.2 L245.6,211.9 L246.3,212.6 L246.9,213.1 L247.5,213.6 L248.0,214.0 L248.3,214.2 L248.7,214.4 L249.0,214.4 L249.5,214.4 L250.1,214.3 L250.7,214.1 L251.5,213.9 L252.2,213.5 L253.0,212.9 L253.8,212.1 L254.7,211.1 L255.6,209.9 L256.5,208.7 L257.4,207.6 L258.2,206.5 L259.0,205.4 L259.8,204.3 L260.6,203.2 L261.4,202.2 L262.2,201.2 L262.9,200.2 L263.6,199.3 L264.3,198.4 L265.0,197.8 L265.6,197.4 L266.3,197.1 L266.8,196.9 L267.5,196.9 L268.1,196.9 L268.8,197.0 L269.5,197.1 L270.2,197.3 L271.0,197.7 L271.7,198.2 L272.4,198.9 L273.1,199.7 L273.8,200.7 L274.5,201.7 L275.2,202.7 L275.9,203.7 L276.6,204.7 L277.4,205.8 L278.1,206.9 L278.8,208.0 L279.5,209.1 L280.2,210.3 L280.9,211.5 L281.6,212.7 L282.3,213.8 L283.0,214.9 L283.7,215.9 L284.5,216.9 L285.2,217.8 L285.9,218.7 L286.6,219.5 L287.3,220.3 L287.9,221.0 L288.6,221.7 L289.4,222.2 L290.2,222.7 L291.1,223.0 L292.1,223.3 L293.0,223.5 L293.9,223.6 L294.8,223.6 L295.7,223.4 L296.5,223.2 L297.4,222.8 L298.3,222.5 L299.2,222.1 L300.2,221.5 L301.1,220.9 L302.1,220.4 L303.0,220.0 L303.9,219.7 L304.7,219.5 L305.6,219.3 L306.4,219.2 L307.3,219.3 L308.2,219.5 L309.1,219.8 L310.0,220.3 L311.0,220.8 L311.9,221.3 L312.8,221.9 L313.7,222.6 L314.7,223.4 L315.6,224.2 L316.5,224.9 L317.4,225.6 L318.3,226.3 L319.2,227.0 L320.1,227.6 L321.0,228.1 L321.9,228.5 L322.7,228.8 L323.6,229.1 L324.4,229.2 L325.2,229.3 L325.9,229.3 L326.6,229.1 L327.2,228.9 L327.8,228.6 L328.4,228.1 L329.0,227.5 L329.7,226.8 L330.3,225.9 L331.0,225.0 L331.6,224.0 L332.2,222.9 L332.9,221.6 L333.5,220.3 L334.1,218.9 L334.8,217.6 L335.5,216.3 L336.2,214.9 L336.9,213.5 L337.7,212.1 L338.4,210.8 L339.1,209.5 L339.9,208.3 L340.7,207.0 L341.4,205.9 L342.1,204.8 L342.8,203.8 L343.4,202.9 L344.0,202.1 L344.6,201.4 L345.3,200.7 L346.0,200.1 L346.7,199.6 L347.4,199.1 L348.2,198.8 L348.9,198.6 L349.6,198.6 L350.4,198.8 L351.1,199.1 L351.8,199.5 L352.6,199.8 L353.4,200.1 L354.2,200.5 L355.1,200.9 L355.9,201.3 L356.7,201.6 L357.4,201.9 L358.1,202.2 L358.8,202.4 L359.4,202.7 L360.0,202.9 L360.5,203.1 L360.8,203.3 L361.1,203.5 L361.5,203.6 L362.1,203.6 L362.8,203.5 L363.7,203.3 L364.7,203.1 L365.7,202.7 L366.6,202.4 L367.5,202.0 L368.4,201.5 L369.2,201.0 L370.1,200.5 L371.0,200.0 L371.9,199.5 L372.8,199.0 L373.7,198.5 L374.6,198.0 L375.4,197.6 L376.2,197.2 L376.9,196.8 L377.5,196.4 L378.2,196.1 L379.0,195.8 L379.8,195.5 L380.7,195.2 L381.6,194.9 L382.5,194.8 L383.4,194.7 L384.2,194.8 L385.0,194.9 L385.8,195.2 L386.6,195.5 L387.4,195.8 L388.2,196.2 L389.0,196.6 L389.8,197.0 L390.6,197.5 L391.4,198.0 L392.3,198.6 L393.2,199.3 L394.1,199.9 L395.0,200.6 L395.9,201.1 L396.8,201.5 L397.7,201.9 L398.5,202.3 L399.4,202.5 L400.3,202.6 L401.2,202.6 L402.1,202.4 L403.0,202.2 L403.9,201.9 L404.8,201.6 L405.7,201.2 L406.6,200.7 L407.4,200.2 L408.3,199.7 L409.2,199.3 L410.1,199.0 L411.0,198.7 L411.9,198.5 L412.8,198.4 L413.6,198.4 L414.4,198.5 L415.1,198.7 L415.7,199.0 L416.4,199.4 L417.1,199.8 L417.8,200.3 L418.5,200.8 L419.2,201.4 L419.9,202.1 L420.7,202.9 L421.5,203.8 L422.4,204.8 L423.3,205.8 L424.2,206.8 L425.1,207.8 L426.0,208.7 L426.9,209.6 L427.8,210.4 L428.7,211.1 L429.6,211.8 L430.5,212.4 L431.4,212.8 L432.2,213.3 L433.1,213.6 L434.0,213.8 L434.9,213.9 L435.8,214.0 L436.6,213.9 L437.5,213.8 L438.4,213.6 L439.3,213.3 L440.2,213.0 L441.1,212.6 L442.0,212.2 L442.9,211.8 L443.8,211.4 L444.7,211.0 L445.5,210.7 L446.4,210.3 L447.3,210.0 L448.2,209.7 L449.2,209.5 L450.1,209.2 L451.0,209.1 L451.8,208.9 L452.4,208.8 L452.9,208.7 L453.4,208.7 L453.8,208.7 L454.4,208.7 L455.1,208.7 L455.8,208.6 L456.5,208.6 L457.3,208.7 L458.0,208.8 L458.7,209.0 L459.4,209.3 L460.2,209.6 L460.9,210.0 L461.6,210.4 L462.3,210.8 L463.0,211.3 L463.7,211.7 L464.4,212.2 L465.1,212.7 L465.8,213.2 L466.5,213.7 L467.2,214.2 L468.0,214.8 L468.7,215.3 L469.4,215.8 L470.2,216.4 L471.0,216.9 L471.7,217.5 L472.5,218.1 L473.2,218.7 L474.0,219.4 L474.7,220.1 L475.5,220.8 L476.2,221.4 L477.0,222.0 L477.7,222.5 L478.5,223.0 L479.2,223.5 L480.0,223.9 L480.7,224.3 L481.4,224.7 L482.2,225.0 L482.9,225.3 L483.7,225.6 L484.6,225.9 L485.5,226.1 L486.5,226.4 L487.4,226.6 L488.4,226.8 L489.3,227.0 L490.3,227.1 L491.2,227.2 L492.2,227.2 L493.1,227.3 L494.0,227.3 L495.0,227.3 L495.9,227.3 L496.9,227.3 L497.8,227.3 L498.7,227.4 L499.7,227.4 L500.6,227.5 L501.6,227.6 L502.5,227.7 L503.4,227.8 L504.4,228.0 L505.3,228.1 L506.2,228.2 L507.1,228.2 L507.9,228.1 L508.7,227.9 L509.4,227.7 L510.2,227.4 L510.9,227.0 L511.6,226.5 L512.4,225.9 L513.1,225.3 L513.9,224.5 L514.6,223.7 L515.4,222.7 L516.1,221.7 L516.9,220.5 L517.6,219.3 L518.4,218.1 L519.2,216.8 L519.9,215.5 L520.7,214.1 L521.4,212.7 L522.1,211.5 L522.7,210.3 L523.4,209.2 L523.9,208.2 L524.5,207.2 L525.0,206.3 L525.5,205.5 L525.9,204.9 L526.3,204.4 L526.7,203.8 L527.2,203.1 L527.7,202.3 L528.3,201.4 L529.0,200.4 L529.6,199.5 L530.2,198.8 L530.8,198.2 L531.4,197.6 L532.0,197.2 L532.6,196.9 L533.3,196.7 L534.0,196.7 L534.7,196.9 L535.4,197.3 L536.2,197.7 L536.9,198.2 L537.6,198.8 L538.3,199.4 L539.1,200.2 L539.8,201.0 L540.5,201.9 L541.2,202.9 L541.9,203.9 L542.7,205.0 L543.4,206.2 L544.1,207.3 L544.8,208.5 L545.5,209.7 L546.3,210.9 L547.0,212.1 L547.7,213.3 L548.4,214.5 L549.1,215.7 L549.9,216.9 L550.6,218.1 L551.3,219.3 L552.0,220.4 L552.7,221.5 L553.5,222.6 L554.2,223.7 L554.9,224.7 L555.6,225.7 L556.3,226.7 L557.0,227.7 L557.8,228.6 L558.6,229.6 L559.5,230.6 L560.4,231.6 L561.4,232.6 L562.4,233.5 L563.4,234.4 L564.4,235.2 L565.3,236.0 L566.3,236.7 L567.2,237.4 L568.2,238.0 L569.2,238.6 L570.1,239.0 L571.1,239.5 L572.0,239.9 L573.0,240.2 L574.0,240.5 L575.0,240.7 L576.0,240.8 L577.0,240.9 L577.8,241.0 L578.5,241.0 L579.0,241.0 L579.4,241.0 L579.9,240.8 L580.6,240.6 L581.4,240.3 L582.4,239.8 L583.4,239.3 L584.5,238.7 L585.5,238.0 L586.5,237.2 L587.6,236.2 L588.6,235.1 L589.6,234.0 L590.7,232.8 L591.8,231.5 L592.8,230.1 L593.9,228.6 L594.9,227.1 L596.0,225.6 L597.0,224.0 L598.1,222.4 L599.1,220.8 L600.2,219.2 L601.2,217.7 L602.3,216.2 L603.3,214.8 L604.4,213.5 L605.4,212.2 L606.5,211.2 L607.5,210.4 L608.6,209.8 L609.6,209.3 L610.7,208.9 L611.7,208.6 L612.7,208.4 L613.8,208.4 L614.8,208.4 L615.9,208.5 L616.9,208.6 L618.0,208.7 L619.0,208.9 L620.1,209.0 L621.1,209.1 L622.2,209.0 L623.2,208.7 L624.3,208.3 L625.3,207.8 L626.4,207.2 L627.4,206.6 L628.5,205.9 L629.5,205.2 L630.6,204.4 L631.6,203.5 L632.7,202.7 L633.7,201.9 L634.8,201.0 L635.8,200.1 L636.9,199.3 L637.9,198.5 L639.0,197.7 L640.1,197.0 L641.2,196.3 L642.3,195.7 L643.2,195.1 L644.0,194.6 L644.8,194.1 L645.5,193.8 L646.0,193.4 L646.4,193.2" fill="none" stroke="#000" stroke-width="1.65" stroke-linejoin="round"/>
<circle cx="227.30" cy="190.10" r="2.7" fill="#ff0000"/>
<circle cx="268.10" cy="196.90" r="2.7" fill="#ff0000"/>
<circle cx="348.90" cy="198.60" r="2.7" fill="#ff0000"/>
<circle cx="383.40" cy="194.70" r="2.7" fill="#ff0000"/>
<circle cx="454.40" cy="208.70" r="2.7" fill="#ff0000"/>
<circle cx="533.30" cy="196.70" r="2.7" fill="#ff0000"/>
<line x1="51.20" y1="177.40" x2="51.20" y2="286.20" stroke="#222" stroke-width="1.2"/>
<line x1="47.60" y1="186.80" x2="51.20" y2="186.80" stroke="#222" stroke-width="1.2"/>
<text transform="translate(44.60,192.00) scale(1.06,1)" text-anchor="end" font-size="12.4" fill="#1a1a1a">0.5</text>
<line x1="47.60" y1="217.90" x2="51.20" y2="217.90" stroke="#222" stroke-width="1.2"/>
<text transform="translate(44.60,223.10) scale(1.06,1)" text-anchor="end" font-size="12.4" fill="#1a1a1a">0.0</text>
<line x1="47.60" y1="249.00" x2="51.20" y2="249.00" stroke="#222" stroke-width="1.2"/>
<text transform="translate(44.60,254.20) scale(1.06,1)" text-anchor="end" font-size="12.4" fill="#1a1a1a">−0.5</text>
<line x1="47.60" y1="280.10" x2="51.20" y2="280.10" stroke="#222" stroke-width="1.2"/>
<text transform="translate(44.60,285.30) scale(1.06,1)" text-anchor="end" font-size="12.4" fill="#1a1a1a">−1.0</text>
<text x="363" y="170.00" text-anchor="middle" font-size="11.3" fill="#1a1a1a">Guitar</text>
<line x1="79.55" y1="333.00" x2="79.55" y2="441.80" stroke="#ededed" stroke-width="1.1"/>
<line x1="117.35" y1="333.00" x2="117.35" y2="441.80" stroke="#ededed" stroke-width="1.1"/>
<line x1="155.15" y1="333.00" x2="155.15" y2="441.80" stroke="#ededed" stroke-width="1.1"/>
<line x1="192.95" y1="333.00" x2="192.95" y2="441.80" stroke="#ededed" stroke-width="1.1"/>
<line x1="230.75" y1="333.00" x2="230.75" y2="441.80" stroke="#ededed" stroke-width="1.1"/>
<line x1="268.55" y1="333.00" x2="268.55" y2="441.80" stroke="#ededed" stroke-width="1.1"/>
<line x1="306.35" y1="333.00" x2="306.35" y2="441.80" stroke="#ededed" stroke-width="1.1"/>
<line x1="344.15" y1="333.00" x2="344.15" y2="441.80" stroke="#ededed" stroke-width="1.1"/>
<line x1="381.95" y1="333.00" x2="381.95" y2="441.80" stroke="#ededed" stroke-width="1.1"/>
<line x1="419.75" y1="333.00" x2="419.75" y2="441.80" stroke="#ededed" stroke-width="1.1"/>
<line x1="457.55" y1="333.00" x2="457.55" y2="441.80" stroke="#ededed" stroke-width="1.1"/>
<line x1="495.35" y1="333.00" x2="495.35" y2="441.80" stroke="#ededed" stroke-width="1.1"/>
<line x1="533.15" y1="333.00" x2="533.15" y2="441.80" stroke="#ededed" stroke-width="1.1"/>
<line x1="570.95" y1="333.00" x2="570.95" y2="441.80" stroke="#ededed" stroke-width="1.1"/>
<line x1="608.75" y1="333.00" x2="608.75" y2="441.80" stroke="#ededed" stroke-width="1.1"/>
<line x1="646.55" y1="333.00" x2="646.55" y2="441.80" stroke="#ededed" stroke-width="1.1"/>
<path d="M79.4,359.4 L79.9,360.0 L80.7,360.8 L81.5,361.9 L82.5,363.0 L83.3,364.2 L84.1,365.6 L84.9,367.0 L85.7,368.6 L86.5,370.2 L87.3,371.9 L88.1,373.6 L88.9,375.4 L89.7,377.2 L90.5,379.1 L91.3,380.8 L92.1,382.6 L92.9,384.3 L93.7,385.9 L94.5,387.6 L95.3,389.1 L96.1,390.6 L96.9,392.0 L97.7,393.4 L98.5,394.7 L99.3,395.9 L100.1,397.1 L100.9,398.2 L101.7,399.3 L102.5,400.3 L103.3,401.3 L104.1,402.1 L104.8,402.8 L105.6,403.5 L106.4,404.1 L107.3,404.7 L108.3,405.2 L109.3,405.7 L110.4,406.1 L111.5,406.5 L112.6,406.8 L113.7,407.2 L114.7,407.4 L115.8,407.6 L116.8,407.9 L117.9,408.2 L119.0,408.6 L120.0,409.1 L121.1,409.7 L122.1,410.2 L123.2,410.6 L124.3,411.0 L125.4,411.4 L126.5,411.7 L127.5,411.9 L128.5,412.0 L129.4,412.0 L130.2,411.9 L131.0,411.7 L131.8,411.4 L132.5,411.1 L133.2,410.7 L133.8,410.1 L134.3,409.6 L134.9,408.9 L135.5,408.1 L136.1,407.3 L136.8,406.4 L137.5,405.4 L138.2,404.3 L138.9,403.2 L139.6,402.1 L140.4,400.9 L141.2,399.6 L142.0,398.4 L142.8,397.1 L143.6,395.7 L144.4,394.3 L145.1,392.8 L145.9,391.4 L146.7,390.1 L147.5,388.9 L148.2,387.7 L149.0,386.6 L149.8,385.6 L150.6,384.7 L151.5,383.9 L152.4,383.1 L153.3,382.5 L154.3,382.0 L155.2,381.6 L156.1,381.5 L157.1,381.5 L158.0,381.7 L159.0,382.0 L159.9,382.2 L160.9,382.5 L161.8,382.9 L162.8,383.3 L163.7,383.6 L164.6,383.9 L165.4,384.1 L166.2,384.2 L167.0,384.3 L167.7,384.2 L168.5,384.1 L169.3,384.0 L170.1,383.7 L170.8,383.4 L171.6,383.0 L172.4,382.4 L173.2,381.7 L174.0,380.9 L174.7,379.9 L175.5,378.9 L176.3,377.7 L177.1,376.4 L177.9,374.9 L178.6,373.3 L179.4,371.6 L180.2,370.1 L181.0,368.5 L181.8,367.0 L182.5,365.4 L183.3,363.9 L184.1,362.4 L184.9,361.0 L185.7,359.5 L186.5,358.1 L187.3,356.8 L188.0,355.6 L188.7,354.6 L189.3,353.7 L189.9,353.0 L190.5,352.4 L191.1,351.8 L191.8,351.3 L192.4,350.9 L193.1,350.5 L193.8,350.3 L194.6,350.3 L195.4,350.5 L196.3,350.8 L197.1,351.2 L198.0,351.7 L198.9,352.3 L199.8,352.9 L200.6,353.7 L201.5,354.4 L202.4,355.2 L203.3,355.8 L204.2,356.3 L205.1,356.8 L206.0,357.2 L206.9,357.5 L207.8,357.8 L208.7,358.0 L209.6,358.1 L210.4,358.2 L211.3,358.2 L212.2,358.0 L213.1,357.7 L214.0,357.3 L214.9,356.7 L215.8,356.1 L216.7,355.4 L217.6,354.6 L218.5,353.7 L219.3,352.8 L220.2,351.8 L221.1,350.9 L222.0,350.0 L222.9,349.2 L223.8,348.3 L224.7,347.5 L225.6,346.9 L226.4,346.4 L227.2,345.9 L228.0,345.6 L228.8,345.3 L229.6,345.2 L230.4,345.2 L231.2,345.3 L232.0,345.6 L232.8,346.0 L233.6,346.5 L234.3,347.2 L235.0,348.2 L235.7,349.2 L236.4,350.3 L237.1,351.4 L237.8,352.4 L238.5,353.5 L239.3,354.6 L240.0,355.7 L240.7,356.7 L241.4,357.6 L242.1,358.6 L242.7,359.4 L243.4,360.3 L244.2,361.2 L245.0,362.2 L245.9,363.3 L246.9,364.3 L247.8,365.1 L248.6,365.6 L249.3,365.6 L250.0,365.4 L250.7,364.8 L251.4,364.2 L252.1,363.4 L252.9,362.5 L253.8,361.4 L254.8,360.1 L255.7,358.8 L256.6,357.6 L257.5,356.3 L258.4,355.1 L259.3,353.8 L260.2,352.5 L261.0,351.4 L261.8,350.3 L262.5,349.3 L263.2,348.4 L263.9,347.6 L264.6,346.9 L265.3,346.3 L266.0,345.8 L266.7,345.5 L267.4,345.2 L268.1,345.2 L268.8,345.3 L269.5,345.6 L270.2,346.1 L270.9,346.7 L271.7,347.4 L272.5,348.3 L273.4,349.4 L274.3,350.7 L275.2,351.9 L276.1,353.2 L277.0,354.4 L277.9,355.7 L278.8,357.0 L279.7,358.3 L280.6,359.4 L281.5,360.4 L282.4,361.4 L283.2,362.3 L284.1,363.1 L285.0,363.8 L285.9,364.3 L286.8,364.6 L287.6,364.9 L288.5,365.1 L289.4,365.2 L290.3,365.2 L291.2,365.2 L292.1,365.1 L293.0,365.0 L293.9,365.0 L294.8,364.9 L295.6,364.9 L296.5,364.8 L297.4,364.8 L298.3,364.9 L299.3,365.0 L300.3,365.2 L301.4,365.5 L302.5,365.8 L303.5,366.2 L304.5,366.6 L305.5,367.2 L306.4,367.8 L307.4,368.4 L308.3,369.0 L309.2,369.6 L310.0,370.2 L310.9,370.9 L311.7,371.5 L312.5,372.1 L313.3,372.6 L314.1,373.1 L315.0,373.6 L315.8,374.1 L316.6,374.5 L317.5,374.8 L318.3,375.2 L319.2,375.4 L320.0,375.6 L320.8,375.7 L321.5,375.6 L322.1,375.4 L322.7,375.2 L323.3,374.7 L323.9,374.2 L324.5,373.4 L325.1,372.5 L325.8,371.4 L326.4,370.2 L327.0,369.0 L327.6,367.6 L328.3,366.2 L328.9,364.7 L329.6,363.2 L330.2,361.7 L330.8,360.2 L331.4,358.7 L332.1,357.2 L332.7,355.7 L333.3,354.4 L333.9,353.1 L334.5,351.9 L335.1,350.8 L335.7,349.7 L336.4,348.7 L337.1,347.6 L337.8,346.6 L338.5,345.6 L339.2,344.7 L340.0,344.0 L340.8,343.3 L341.7,342.6 L342.5,342.1 L343.4,341.8 L344.2,341.7 L344.9,341.8 L345.7,342.1 L346.3,342.5 L347.1,343.2 L347.8,344.0 L348.6,344.9 L349.5,346.1 L350.3,347.4 L351.2,348.8 L352.0,350.2 L352.8,351.5 L353.5,353.0 L354.2,354.4 L354.9,355.8 L355.6,357.1 L356.2,358.2 L356.8,359.3 L357.3,360.3 L357.9,361.3 L358.6,362.2 L359.4,363.0 L360.3,363.8 L361.2,364.5 L362.1,365.1 L363.0,365.4 L363.9,365.4 L364.8,365.1 L365.6,364.7 L366.5,364.1 L367.4,363.4 L368.3,362.4 L369.2,361.2 L370.1,359.9 L371.0,358.5 L371.9,357.1 L372.8,355.8 L373.6,354.3 L374.5,352.9 L375.4,351.6 L376.3,350.4 L377.3,349.5 L378.4,348.6 L379.6,347.9 L380.7,347.3 L381.7,347.0 L382.6,347.1 L383.5,347.4 L384.4,347.9 L385.2,348.5 L386.1,349.1 L387.0,349.8 L387.9,350.5 L388.8,351.2 L389.7,351.9 L390.6,352.6 L391.5,353.3 L392.4,354.0 L393.2,354.6 L394.1,355.2 L395.0,355.7 L395.9,356.2 L396.8,356.6 L397.6,356.9 L398.5,357.1 L399.4,357.1 L400.3,357.0 L401.2,356.8 L402.1,356.5 L403.0,356.0 L403.9,355.3 L404.8,354.5 L405.7,353.4 L406.6,352.2 L407.5,351.0 L408.3,349.9 L409.0,348.9 L409.7,347.9 L410.4,346.9 L411.0,346.1 L411.5,345.3 L412.0,344.8 L412.4,344.4 L412.7,344.0 L413.1,343.8 L413.5,343.5 L414.0,343.3 L414.4,343.0 L414.9,342.8 L415.5,342.7 L416.1,342.7 L416.8,342.9 L417.6,343.1 L418.5,343.4 L419.4,343.8 L420.3,344.3 L421.2,345.0 L422.1,345.8 L423.1,346.7 L424.1,347.6 L425.0,348.5 L425.9,349.4 L426.9,350.2 L427.8,351.1 L428.8,351.9 L429.7,352.7 L430.6,353.5 L431.5,354.3 L432.5,355.0 L433.4,355.7 L434.3,356.4 L435.2,357.1 L436.2,357.7 L437.1,358.2 L438.1,358.8 L439.0,359.2 L439.9,359.6 L440.9,360.0 L441.8,360.3 L442.8,360.6 L443.7,360.7 L444.6,360.8 L445.6,360.7 L446.5,360.6 L447.5,360.4 L448.4,360.2 L449.4,359.9 L450.3,359.6 L451.3,359.2 L452.2,358.9 L453.1,358.6 L453.9,358.4 L454.6,358.3 L455.4,358.2 L456.1,358.2 L456.8,358.3 L457.6,358.5 L458.3,358.8 L459.1,359.2 L459.8,359.7 L460.6,360.2 L461.3,360.9 L462.1,361.7 L462.8,362.6 L463.5,363.5 L464.3,364.4 L465.1,365.4 L465.9,366.4 L466.8,367.5 L467.6,368.5 L468.4,369.5 L469.1,370.4 L469.8,371.3 L470.5,372.1 L471.2,372.8 L471.9,373.5 L472.6,374.1 L473.3,374.7 L473.9,375.2 L474.6,375.6 L475.3,376.0 L476.0,376.3 L476.6,376.5 L477.3,376.6 L477.9,376.7 L478.7,376.7 L479.5,376.6 L480.5,376.4 L481.4,376.1 L482.4,375.9 L483.3,375.6 L484.2,375.3 L485.1,375.1 L486.0,374.8 L486.9,374.5 L487.9,374.3 L489.0,374.1 L490.1,374.0 L491.3,373.9 L492.4,373.8 L493.6,373.7 L494.7,373.7 L495.9,373.7 L497.0,373.8 L498.2,373.8 L499.3,373.8 L500.5,373.8 L501.7,373.8 L502.9,373.7 L504.0,373.6 L505.0,373.5 L505.8,373.4 L506.5,373.2 L507.1,373.0 L507.8,372.8 L508.4,372.4 L509.1,372.0 L509.8,371.5 L510.5,370.9 L511.2,370.2 L511.9,369.5 L512.6,368.7 L513.3,367.8 L513.9,366.9 L514.6,365.9 L515.3,364.9 L516.0,363.8 L516.7,362.7 L517.3,361.5 L518.0,360.4 L518.7,359.2 L519.4,358.0 L520.1,356.8 L520.8,355.7 L521.5,354.5 L522.1,353.5 L522.7,352.6 L523.3,351.7 L523.9,350.9 L524.5,350.2 L525.0,349.5 L525.5,348.8 L526.0,348.2 L526.4,347.7 L526.9,347.1 L527.5,346.6 L528.2,346.0 L528.9,345.4 L529.7,344.8 L530.4,344.3 L531.2,344.1 L532.0,344.1 L532.7,344.4 L533.5,344.8 L534.2,345.4 L535.0,346.0 L535.7,346.8 L536.5,347.7 L537.2,348.7 L538.0,349.8 L538.7,351.0 L539.5,352.2 L540.2,353.6 L541.0,354.9 L541.7,356.4 L542.5,357.8 L543.2,359.3 L544.0,360.8 L544.7,362.3 L545.5,363.8 L546.2,365.3 L546.9,366.7 L547.7,368.1 L548.4,369.5 L549.2,370.8 L549.9,372.1 L550.7,373.3 L551.4,374.4 L552.2,375.5 L552.9,376.5 L553.7,377.5 L554.4,378.4 L555.1,379.3 L555.8,380.1 L556.6,380.8 L557.4,381.6 L558.3,382.3 L559.3,383.0 L560.3,383.7 L561.4,384.3 L562.4,384.8 L563.4,385.2 L564.4,385.5 L565.4,385.7 L566.4,385.9 L567.4,386.0 L568.4,386.1 L569.5,386.1 L570.5,386.0 L571.5,385.9 L572.4,385.8 L573.2,385.7 L573.9,385.6 L574.6,385.4 L575.3,385.2 L576.0,385.1 L576.8,384.9 L577.5,384.6 L578.3,384.4 L579.1,384.1 L580.0,383.7 L580.9,383.3 L581.9,382.7 L583.0,382.1 L584.0,381.5 L585.0,380.8 L586.0,380.0 L587.0,379.2 L588.0,378.4 L589.0,377.4 L590.0,376.5 L591.0,375.5 L592.0,374.4 L593.0,373.2 L594.0,372.1 L595.0,370.9 L596.0,369.7 L597.0,368.5 L598.0,367.2 L599.0,365.9 L600.0,364.8 L601.0,363.6 L602.0,362.4 L603.1,361.3 L604.0,360.2 L605.0,359.3 L605.9,358.6 L606.8,357.9 L607.6,357.3 L608.4,356.9 L609.3,356.7 L610.2,356.8 L611.0,357.1 L611.9,357.6 L612.8,358.2 L613.7,358.8 L614.7,359.4 L615.6,360.2 L616.6,361.0 L617.7,361.8 L618.7,362.4 L619.8,363.1 L621.0,363.7 L622.1,364.2 L623.2,364.7 L624.3,364.9 L625.2,365.0 L626.1,364.9 L627.0,364.6 L627.8,364.2 L628.7,363.7 L629.7,362.9 L630.7,361.9 L631.7,360.8 L632.7,359.6 L633.7,358.5 L634.7,357.3 L635.7,356.1 L636.7,354.9 L637.7,353.7 L638.7,352.5 L639.7,351.4 L640.8,350.2 L641.9,349.1 L642.8,348.1 L643.7,347.2 L644.4,346.5 L645.1,345.9 L645.6,345.4 L646.1,345.0 L646.4,344.7 L646.4,360.3 L646.1,360.6 L645.6,361.0 L645.1,361.5 L644.4,362.1 L643.7,362.8 L642.8,363.5 L641.9,364.5 L640.8,365.4 L639.7,366.5 L638.7,367.5 L637.7,368.5 L636.7,369.6 L635.7,370.6 L634.7,371.7 L633.7,372.7 L632.7,373.8 L631.7,374.8 L630.7,375.9 L629.7,376.8 L628.7,377.5 L627.8,378.0 L627.0,378.4 L626.1,378.7 L625.2,378.8 L624.3,378.7 L623.2,378.4 L622.1,378.0 L621.0,377.4 L619.8,376.8 L618.7,376.2 L617.7,375.5 L616.6,374.7 L615.6,373.9 L614.7,373.1 L613.7,372.4 L612.8,371.8 L611.9,371.2 L611.0,370.7 L610.2,370.4 L609.3,370.3 L608.4,370.5 L607.6,370.9 L606.8,371.5 L605.9,372.2 L605.0,373.1 L604.0,374.0 L603.1,375.1 L602.0,376.3 L601.0,377.6 L600.0,378.8 L599.0,380.1 L598.0,381.4 L597.0,382.7 L596.0,384.0 L595.0,385.3 L594.0,386.5 L593.0,387.6 L592.0,388.8 L591.0,389.9 L590.0,390.9 L589.0,391.9 L588.0,392.9 L587.0,393.8 L586.0,394.6 L585.0,395.4 L584.0,396.2 L583.0,396.9 L581.9,397.6 L580.9,398.1 L580.0,398.7 L579.1,399.1 L578.3,399.4 L577.5,399.7 L576.8,399.9 L576.0,400.1 L575.3,400.4 L574.6,400.6 L573.9,400.7 L573.2,400.9 L572.4,401.0 L571.5,401.1 L570.5,401.2 L569.5,401.3 L568.4,401.3 L567.4,401.2 L566.4,401.0 L565.4,400.7 L564.4,400.4 L563.4,399.9 L562.4,399.4 L561.4,398.8 L560.3,398.1 L559.3,397.3 L558.3,396.5 L557.4,395.6 L556.6,394.8 L555.8,393.9 L555.1,393.1 L554.4,392.1 L553.7,391.1 L552.9,390.1 L552.2,388.9 L551.4,387.8 L550.7,386.6 L549.9,385.3 L549.2,384.0 L548.4,382.6 L547.7,381.2 L546.9,379.8 L546.2,378.3 L545.5,376.8 L544.7,375.3 L544.0,373.8 L543.2,372.3 L542.5,370.8 L541.7,369.4 L541.0,367.9 L540.2,366.6 L539.5,365.2 L538.7,364.0 L538.0,362.8 L537.2,361.7 L536.5,360.7 L535.7,359.8 L535.0,359.0 L534.2,358.4 L533.5,357.8 L532.7,357.4 L532.0,357.1 L531.2,357.1 L530.4,357.3 L529.7,357.8 L528.9,358.4 L528.2,359.0 L527.5,359.6 L526.9,360.1 L526.4,360.7 L526.0,361.2 L525.5,361.8 L525.0,362.5 L524.5,363.2 L523.9,363.9 L523.3,364.7 L522.7,365.6 L522.1,366.5 L521.5,367.5 L520.8,368.7 L520.1,369.8 L519.4,371.0 L518.7,372.2 L518.0,373.4 L517.3,374.5 L516.7,375.7 L516.0,376.8 L515.3,377.9 L514.6,378.9 L513.9,379.9 L513.3,380.8 L512.6,381.7 L511.9,382.5 L511.2,383.2 L510.5,383.9 L509.8,384.4 L509.1,385.0 L508.4,385.4 L507.8,385.7 L507.1,386.0 L506.5,386.2 L505.8,386.4 L505.0,386.5 L504.0,386.6 L502.9,386.7 L501.7,386.7 L500.5,386.8 L499.3,386.8 L498.2,386.8 L497.0,386.8 L495.9,386.7 L494.7,386.7 L493.6,386.7 L492.4,386.8 L491.3,386.8 L490.1,387.0 L489.0,387.1 L487.9,387.3 L486.9,387.5 L486.0,387.8 L485.1,388.1 L484.2,388.3 L483.3,388.6 L482.4,388.9 L481.4,389.1 L480.5,389.4 L479.5,389.6 L478.7,389.7 L477.9,389.7 L477.3,389.6 L476.6,389.5 L476.0,389.3 L475.3,389.0 L474.6,388.6 L473.9,388.2 L473.3,387.7 L472.6,387.1 L471.9,386.5 L471.2,385.8 L470.5,385.0 L469.8,384.2 L469.1,383.4 L468.4,382.5 L467.6,381.5 L466.8,380.5 L465.9,379.4 L465.1,378.4 L464.3,377.4 L463.5,376.5 L462.8,375.5 L462.1,374.7 L461.3,373.9 L460.6,373.2 L459.8,372.6 L459.1,372.2 L458.3,371.8 L457.6,371.5 L456.8,371.3 L456.1,371.2 L455.4,371.2 L454.6,371.3 L453.9,371.4 L453.1,371.6 L452.2,371.8 L451.3,372.2 L450.3,372.6 L449.4,372.9 L448.4,373.2 L447.5,373.4 L446.5,373.6 L445.6,373.7 L444.6,373.7 L443.7,373.7 L442.8,373.5 L441.8,373.3 L440.9,373.0 L439.9,372.6 L439.0,372.2 L438.1,371.7 L437.1,371.2 L436.2,370.6 L435.2,370.0 L434.3,369.4 L433.4,368.7 L432.5,368.0 L431.5,367.2 L430.6,366.5 L429.7,365.7 L428.8,364.9 L427.8,364.0 L426.9,363.2 L425.9,362.3 L425.0,361.5 L424.1,360.6 L423.1,359.7 L422.1,358.8 L421.2,357.9 L420.3,357.3 L419.4,356.7 L418.5,356.3 L417.6,356.0 L416.8,355.8 L416.1,355.7 L415.5,355.7 L414.9,355.8 L414.4,356.0 L414.0,356.2 L413.5,356.5 L413.1,356.7 L412.7,357.0 L412.4,357.3 L412.0,357.7 L411.5,358.3 L411.0,359.0 L410.4,359.9 L409.7,360.8 L409.0,361.9 L408.3,362.9 L407.5,364.0 L406.6,365.1 L405.7,366.3 L404.8,367.4 L403.9,368.3 L403.0,368.9 L402.1,369.4 L401.2,369.7 L400.3,370.0 L399.4,370.1 L398.5,370.0 L397.6,369.8 L396.8,369.5 L395.9,369.1 L395.0,368.7 L394.1,368.2 L393.2,367.6 L392.4,366.9 L391.5,366.2 L390.6,365.6 L389.7,364.9 L388.8,364.1 L387.9,363.4 L387.0,362.7 L386.1,362.1 L385.2,361.5 L384.4,360.9 L383.5,360.3 L382.6,360.0 L381.7,360.0 L380.7,360.2 L379.6,360.8 L378.4,361.5 L377.3,362.4 L376.3,363.4 L375.4,364.5 L374.5,365.8 L373.6,367.2 L372.8,368.7 L371.9,370.1 L371.0,371.4 L370.1,372.8 L369.2,374.1 L368.3,375.3 L367.4,376.2 L366.5,377.0 L365.6,377.6 L364.8,378.0 L363.9,378.2 L363.0,378.2 L362.1,378.0 L361.2,377.4 L360.3,376.7 L359.4,375.9 L358.6,375.0 L357.9,374.2 L357.3,373.2 L356.8,372.2 L356.2,371.1 L355.6,369.9 L354.9,368.7 L354.2,367.3 L353.5,365.8 L352.8,364.4 L352.0,363.0 L351.2,361.7 L350.3,360.3 L349.5,359.0 L348.6,357.8 L347.8,356.8 L347.1,356.1 L346.3,355.4 L345.7,354.9 L344.9,354.6 L344.2,354.5 L343.4,354.7 L342.5,355.0 L341.7,355.5 L340.8,356.2 L340.0,356.8 L339.2,357.6 L338.5,358.5 L337.8,359.5 L337.1,360.5 L336.4,361.5 L335.7,362.6 L335.1,363.7 L334.5,364.8 L333.9,366.0 L333.3,367.2 L332.7,368.6 L332.1,370.0 L331.4,371.5 L330.8,373.0 L330.2,374.5 L329.6,376.0 L328.9,377.6 L328.3,379.1 L327.6,380.5 L327.0,381.8 L326.4,383.1 L325.8,384.2 L325.1,385.3 L324.5,386.3 L323.9,387.0 L323.3,387.6 L322.7,388.0 L322.1,388.3 L321.5,388.5 L320.8,388.5 L320.0,388.5 L319.2,388.3 L318.3,388.0 L317.5,387.7 L316.6,387.3 L315.8,386.9 L315.0,386.5 L314.1,386.0 L313.3,385.5 L312.5,384.9 L311.7,384.3 L310.9,383.7 L310.0,383.1 L309.2,382.4 L308.3,381.8 L307.4,381.2 L306.4,380.6 L305.5,380.0 L304.5,379.5 L303.5,379.0 L302.5,378.6 L301.4,378.3 L300.3,378.1 L299.3,377.9 L298.3,377.7 L297.4,377.7 L296.5,377.7 L295.6,377.7 L294.8,377.8 L293.9,377.8 L293.0,377.9 L292.1,378.0 L291.2,378.0 L290.3,378.1 L289.4,378.0 L288.5,377.9 L287.6,377.7 L286.8,377.5 L285.9,377.1 L285.0,376.6 L284.1,376.0 L283.2,375.2 L282.4,374.2 L281.5,373.3 L280.6,372.2 L279.7,371.1 L278.8,369.8 L277.9,368.6 L277.0,367.3 L276.1,366.0 L275.2,364.8 L274.3,363.5 L273.4,362.3 L272.5,361.1 L271.7,360.2 L270.9,359.5 L270.2,358.9 L269.5,358.4 L268.8,358.1 L268.1,358.0 L267.4,358.1 L266.7,358.3 L266.0,358.6 L265.3,359.1 L264.6,359.7 L263.9,360.4 L263.2,361.2 L262.5,362.2 L261.8,363.2 L261.0,364.2 L260.2,365.3 L259.3,366.6 L258.4,367.9 L257.5,369.2 L256.6,370.4 L255.7,371.7 L254.8,372.9 L253.8,374.2 L252.9,375.3 L252.1,376.2 L251.4,377.0 L250.7,377.7 L250.0,378.2 L249.3,378.4 L248.6,378.4 L247.8,378.0 L246.9,377.1 L245.9,376.1 L245.0,375.0 L244.2,374.0 L243.4,373.1 L242.7,372.3 L242.1,371.4 L241.4,370.5 L240.7,369.5 L240.0,368.5 L239.3,367.4 L238.5,366.3 L237.8,365.3 L237.1,364.2 L236.4,363.1 L235.7,362.0 L235.0,361.0 L234.3,360.0 L233.6,359.3 L232.8,358.8 L232.0,358.4 L231.2,358.1 L230.4,358.0 L229.6,358.0 L228.8,358.1 L228.0,358.4 L227.2,358.7 L226.4,359.2 L225.6,359.7 L224.7,360.3 L223.8,361.1 L222.9,362.0 L222.0,362.8 L221.1,363.7 L220.2,364.6 L219.3,365.6 L218.5,366.5 L217.6,367.4 L216.7,368.2 L215.8,368.9 L214.9,369.5 L214.0,370.1 L213.1,370.5 L212.2,370.8 L211.3,371.0 L210.4,371.0 L209.6,370.9 L208.7,370.8 L207.8,370.6 L206.9,370.3 L206.0,370.0 L205.1,369.6 L204.2,369.1 L203.3,368.6 L202.4,368.0 L201.5,367.2 L200.6,366.5 L199.8,365.7 L198.9,365.1 L198.0,364.5 L197.1,364.0 L196.3,363.6 L195.4,363.3 L194.6,363.1 L193.8,363.1 L193.1,363.3 L192.4,363.7 L191.8,364.1 L191.1,364.6 L190.5,365.2 L189.9,365.9 L189.3,366.7 L188.7,367.6 L188.0,368.6 L187.3,369.8 L186.5,371.2 L185.7,372.7 L184.9,374.2 L184.1,375.8 L183.3,377.3 L182.5,378.9 L181.8,380.5 L181.0,382.1 L180.2,383.7 L179.4,385.4 L178.6,387.1 L177.9,388.7 L177.1,390.3 L176.3,391.7 L175.5,392.9 L174.7,393.9 L174.0,394.9 L173.2,395.7 L172.4,396.4 L171.6,397.0 L170.8,397.5 L170.1,397.9 L169.3,398.2 L168.5,398.5 L167.7,398.6 L167.0,398.7 L166.2,398.8 L165.4,398.8 L164.6,398.7 L163.7,398.5 L162.8,398.3 L161.8,398.0 L160.9,397.8 L159.9,397.6 L159.0,397.4 L158.0,397.2 L157.1,397.1 L156.1,397.0 L155.2,397.2 L154.3,397.6 L153.3,398.1 L152.4,398.7 L151.5,399.5 L150.6,400.3 L149.8,401.2 L149.0,402.3 L148.2,403.4 L147.5,404.6 L146.7,405.9 L145.9,407.2 L145.1,408.6 L144.4,410.1 L143.6,411.5 L142.8,412.9 L142.0,414.2 L141.2,415.5 L140.4,416.8 L139.6,418.0 L138.9,419.2 L138.2,420.3 L137.5,421.4 L136.8,422.4 L136.1,423.4 L135.5,424.3 L134.9,425.0 L134.3,425.7 L133.8,426.3 L133.2,426.9 L132.5,427.3 L131.8,427.7 L131.0,428.0 L130.2,428.2 L129.4,428.4 L128.5,428.4 L127.5,428.3 L126.5,428.1 L125.4,427.8 L124.3,427.5 L123.2,427.2 L122.1,426.7 L121.1,426.3 L120.0,425.7 L119.0,425.2 L117.9,424.8 L116.8,424.5 L115.8,424.2 L114.7,424.0 L113.7,423.8 L112.6,423.6 L111.5,423.3 L110.4,422.9 L109.3,422.6 L108.3,422.2 L107.3,421.7 L106.4,421.2 L105.6,420.6 L104.8,420.0 L104.1,419.3 L103.3,418.5 L102.5,417.6 L101.7,416.7 L100.9,415.6 L100.1,414.5 L99.3,413.3 L98.5,412.1 L97.7,410.8 L96.9,409.5 L96.1,408.1 L95.3,406.7 L94.5,405.2 L93.7,403.7 L92.9,402.1 L92.1,400.6 L91.3,399.0 L90.5,397.3 L89.7,395.7 L88.9,394.0 L88.1,392.3 L87.3,390.7 L86.5,389.2 L85.7,387.8 L84.9,386.3 L84.1,385.0 L83.3,383.8 L82.5,382.6 L81.5,381.6 L80.7,380.6 L79.9,379.8 L79.4,379.2 Z" fill="#dbdbdb" clip-path="url(#c2)"/>
<g fill="#000"><circle cx="79.6" cy="341.9" r="0.8"/><circle cx="83.0" cy="345.9" r="0.8"/><circle cx="85.7" cy="350.1" r="0.8"/><circle cx="88.0" cy="354.1" r="0.8"/><circle cx="90.0" cy="358.8" r="0.8"/><circle cx="92.0" cy="363.2" r="0.8"/><circle cx="93.8" cy="367.3" r="0.8"/><circle cx="95.5" cy="372.1" r="0.8"/><circle cx="97.4" cy="376.6" r="0.8"/><circle cx="99.6" cy="380.9" r="0.8"/><circle cx="102.1" cy="385.1" r="0.8"/><circle cx="105.4" cy="388.7" r="0.8"/><circle cx="110.0" cy="390.2" r="0.8"/><circle cx="114.7" cy="390.7" r="0.8"/><circle cx="119.6" cy="391.7" r="0.8"/><circle cx="124.3" cy="392.1" r="0.8"/><circle cx="128.9" cy="390.9" r="0.8"/><circle cx="133.1" cy="388.2" r="0.8"/><circle cx="136.9" cy="385.3" r="0.8"/><circle cx="140.4" cy="382.0" r="0.8"/><circle cx="143.8" cy="378.5" r="0.8"/><circle cx="147.4" cy="375.1" r="0.8"/><circle cx="151.1" cy="372.1" r="0.8"/><circle cx="155.8" cy="371.1" r="0.8"/><circle cx="160.0" cy="372.8" r="0.8"/><circle cx="164.2" cy="375.7" r="0.8"/><circle cx="168.3" cy="378.1" r="0.8"/><circle cx="173.0" cy="378.1" r="0.8"/><circle cx="177.4" cy="375.7" r="0.8"/><circle cx="181.0" cy="372.6" r="0.8"/><circle cx="184.6" cy="369.3" r="0.8"/><circle cx="188.2" cy="366.1" r="0.8"/><circle cx="192.2" cy="363.3" r="0.8"/><circle cx="196.8" cy="362.2" r="0.8"/><circle cx="201.2" cy="363.7" r="0.8"/><circle cx="205.5" cy="366.4" r="0.8"/><circle cx="209.8" cy="368.2" r="0.8"/><circle cx="214.2" cy="367.2" r="0.8"/><circle cx="218.0" cy="364.2" r="0.8"/><circle cx="221.4" cy="360.5" r="0.8"/><circle cx="224.5" cy="356.8" r="0.8"/><circle cx="228.2" cy="353.5" r="0.8"/><circle cx="232.9" cy="353.3" r="0.8"/><circle cx="236.4" cy="356.4" r="0.8"/><circle cx="240.2" cy="359.9" r="0.8"/><circle cx="243.5" cy="363.3" r="0.8"/><circle cx="247.5" cy="365.7" r="0.8"/><circle cx="251.8" cy="364.8" r="0.8"/><circle cx="255.6" cy="361.5" r="0.8"/><circle cx="258.9" cy="358.1" r="0.8"/><circle cx="262.6" cy="354.7" r="0.8"/><circle cx="266.7" cy="352.5" r="0.8"/><circle cx="271.2" cy="353.3" r="0.8"/><circle cx="274.6" cy="356.9" r="0.8"/><circle cx="277.4" cy="360.9" r="0.8"/><circle cx="280.3" cy="365.1" r="0.8"/><circle cx="283.2" cy="369.1" r="0.8"/><circle cx="286.2" cy="372.6" r="0.8"/><circle cx="290.5" cy="374.9" r="0.8"/><circle cx="295.2" cy="375.3" r="0.8"/><circle cx="299.9" cy="374.2" r="0.8"/><circle cx="304.4" cy="372.9" r="0.8"/><circle cx="309.0" cy="371.0" r="0.8"/><circle cx="313.7" cy="370.4" r="0.8"/><circle cx="318.5" cy="370.9" r="0.8"/><circle cx="323.6" cy="370.5" r="0.8"/><circle cx="327.6" cy="368.0" r="0.8"/><circle cx="330.2" cy="363.5" r="0.8"/><circle cx="332.4" cy="359.6" r="0.8"/><circle cx="334.7" cy="355.3" r="0.8"/><circle cx="337.2" cy="350.9" r="0.8"/><circle cx="340.3" cy="346.9" r="0.8"/><circle cx="344.2" cy="345.1" r="0.8"/><circle cx="348.4" cy="347.7" r="0.8"/><circle cx="351.1" cy="351.7" r="0.8"/><circle cx="353.3" cy="356.2" r="0.8"/><circle cx="356.2" cy="359.9" r="0.8"/><circle cx="359.2" cy="363.5" r="0.8"/><circle cx="363.3" cy="366.1" r="0.8"/><circle cx="368.0" cy="365.5" r="0.8"/><circle cx="372.4" cy="363.3" r="0.8"/><circle cx="376.8" cy="361.3" r="0.8"/><circle cx="381.4" cy="360.2" r="0.8"/><circle cx="386.1" cy="361.1" r="0.8"/><circle cx="390.6" cy="363.1" r="0.8"/><circle cx="394.4" cy="366.0" r="0.8"/><circle cx="398.6" cy="368.5" r="0.8"/><circle cx="403.3" cy="368.8" r="0.8"/><circle cx="407.2" cy="366.0" r="0.8"/><circle cx="410.6" cy="362.4" r="0.8"/><circle cx="413.8" cy="359.0" r="0.8"/><circle cx="418.4" cy="358.4" r="0.8"/><circle cx="422.6" cy="361.5" r="0.8"/><circle cx="425.0" cy="365.5" r="0.8"/><circle cx="427.9" cy="369.5" r="0.8"/><circle cx="431.0" cy="372.8" r="0.8"/><circle cx="435.0" cy="375.2" r="0.8"/><circle cx="440.0" cy="375.9" r="0.8"/><circle cx="444.7" cy="375.2" r="0.8"/><circle cx="449.6" cy="375.1" r="0.8"/><circle cx="454.4" cy="375.7" r="0.8"/><circle cx="459.2" cy="376.7" r="0.8"/><circle cx="463.5" cy="378.7" r="0.8"/><circle cx="467.3" cy="381.5" r="0.8"/><circle cx="471.2" cy="384.7" r="0.8"/><circle cx="475.2" cy="387.6" r="0.8"/><circle cx="479.3" cy="389.8" r="0.8"/><circle cx="484.0" cy="390.3" r="0.8"/><circle cx="489.0" cy="389.3" r="0.8"/><circle cx="493.6" cy="387.9" r="0.8"/><circle cx="498.5" cy="387.0" r="0.8"/><circle cx="503.1" cy="386.4" r="0.8"/><circle cx="507.9" cy="385.0" r="0.8"/><circle cx="511.6" cy="381.9" r="0.8"/><circle cx="514.7" cy="378.4" r="0.8"/><circle cx="517.6" cy="374.4" r="0.8"/><circle cx="520.2" cy="370.4" r="0.8"/><circle cx="522.9" cy="366.2" r="0.8"/><circle cx="525.6" cy="362.4" r="0.8"/><circle cx="528.4" cy="358.4" r="0.8"/><circle cx="531.6" cy="355.0" r="0.8"/><circle cx="535.9" cy="354.1" r="0.8"/><circle cx="540.1" cy="357.1" r="0.8"/><circle cx="543.0" cy="361.8" r="0.8"/><circle cx="545.2" cy="365.3" r="0.8"/><circle cx="547.7" cy="369.4" r="0.8"/><circle cx="550.2" cy="373.7" r="0.8"/><circle cx="552.7" cy="378.1" r="0.8"/><circle cx="555.2" cy="382.2" r="0.8"/><circle cx="558.1" cy="386.2" r="0.8"/><circle cx="561.0" cy="390.0" r="0.8"/><circle cx="564.3" cy="393.5" r="0.8"/><circle cx="568.1" cy="396.4" r="0.8"/><circle cx="572.2" cy="398.9" r="0.8"/><circle cx="576.8" cy="400.2" r="0.8"/><circle cx="581.8" cy="400.8" r="0.8"/><circle cx="586.4" cy="400.6" r="0.8"/><circle cx="591.1" cy="399.7" r="0.8"/><circle cx="595.8" cy="397.8" r="0.8"/><circle cx="599.7" cy="395.3" r="0.8"/><circle cx="603.7" cy="392.1" r="0.8"/><circle cx="608.1" cy="390.2" r="0.8"/><circle cx="612.8" cy="390.9" r="0.8"/><circle cx="617.6" cy="392.1" r="0.8"/><circle cx="621.9" cy="392.1" r="0.8"/><circle cx="626.3" cy="390.2" r="0.8"/><circle cx="630.7" cy="387.3" r="0.8"/><circle cx="634.6" cy="384.4" r="0.8"/><circle cx="639.0" cy="382.2" r="0.8"/><circle cx="643.1" cy="379.7" r="0.8"/></g>
<rect x="191.50" y="333.00" width="6.20" height="108.80" fill="#ffadbb" fill-opacity="0.35"/>
<path d="M191.50,333.00V441.80M197.70,333.00V441.80" stroke="rgba(255,150,175,0.6)" stroke-width="1"/>
<rect x="226.40" y="333.00" width="6.00" height="108.80" fill="#ffadbb" fill-opacity="0.35"/>
<path d="M226.40,333.00V441.80M232.40,333.00V441.80" stroke="rgba(255,150,175,0.6)" stroke-width="1"/>
<rect x="265.40" y="333.00" width="5.10" height="108.80" fill="#ffadbb" fill-opacity="0.35"/>
<path d="M265.40,333.00V441.80M270.50,333.00V441.80" stroke="rgba(255,150,175,0.6)" stroke-width="1"/>
<rect x="342.10" y="333.00" width="3.70" height="108.80" fill="#ffadbb" fill-opacity="0.35"/>
<path d="M342.10,333.00V441.80M345.80,333.00V441.80" stroke="rgba(255,150,175,0.6)" stroke-width="1"/>
<rect x="378.70" y="333.00" width="6.10" height="108.80" fill="#ffadbb" fill-opacity="0.35"/>
<path d="M378.70,333.00V441.80M384.80,333.00V441.80" stroke="rgba(255,150,175,0.6)" stroke-width="1"/>
<rect x="413.70" y="333.00" width="5.70" height="108.80" fill="#ffadbb" fill-opacity="0.35"/>
<path d="M413.70,333.00V441.80M419.40,333.00V441.80" stroke="rgba(255,150,175,0.6)" stroke-width="1"/>
<rect x="529.40" y="333.00" width="3.90" height="108.80" fill="#ffadbb" fill-opacity="0.35"/>
<path d="M529.40,333.00V441.80M533.30,333.00V441.80" stroke="rgba(255,150,175,0.6)" stroke-width="1"/>
<rect x="607.00" y="333.00" width="5.10" height="108.80" fill="#ffadbb" fill-opacity="0.35"/>
<path d="M607.00,333.00V441.80M612.10,333.00V441.80" stroke="rgba(255,150,175,0.6)" stroke-width="1"/>
<path d="M79.4,369.3 L79.9,369.9 L80.7,370.7 L81.5,371.7 L82.5,372.8 L83.3,374.0 L84.1,375.3 L84.9,376.7 L85.7,378.2 L86.5,379.7 L87.3,381.3 L88.1,382.9 L88.9,384.7 L89.7,386.4 L90.5,388.2 L91.3,389.9 L92.1,391.6 L92.9,393.2 L93.7,394.8 L94.5,396.4 L95.3,397.9 L96.1,399.3 L96.9,400.7 L97.7,402.1 L98.5,403.4 L99.3,404.6 L100.1,405.8 L100.9,406.9 L101.7,408.0 L102.5,409.0 L103.3,409.9 L104.1,410.7 L104.8,411.4 L105.6,412.1 L106.4,412.7 L107.3,413.2 L108.3,413.7 L109.3,414.1 L110.4,414.5 L111.5,414.9 L112.6,415.2 L113.7,415.5 L114.7,415.7 L115.8,415.9 L116.8,416.2 L117.9,416.5 L119.0,416.9 L120.0,417.4 L121.1,418.0 L122.1,418.5 L123.2,418.9 L124.3,419.3 L125.4,419.6 L126.5,419.9 L127.5,420.1 L128.5,420.2 L129.4,420.2 L130.2,420.1 L131.0,419.9 L131.8,419.6 L132.5,419.2 L133.2,418.8 L133.8,418.2 L134.3,417.6 L134.9,417.0 L135.5,416.2 L136.1,415.3 L136.8,414.4 L137.5,413.4 L138.2,412.3 L138.9,411.2 L139.6,410.0 L140.4,408.8 L141.2,407.6 L142.0,406.3 L142.8,405.0 L143.6,403.6 L144.4,402.2 L145.1,400.7 L145.9,399.3 L146.7,398.0 L147.5,396.8 L148.2,395.6 L149.0,394.5 L149.8,393.4 L150.6,392.5 L151.5,391.7 L152.4,390.9 L153.3,390.3 L154.3,389.8 L155.2,389.4 L156.1,389.3 L157.1,389.3 L158.0,389.5 L159.0,389.7 L159.9,389.9 L160.9,390.1 L161.8,390.5 L162.8,390.8 L163.7,391.1 L164.6,391.3 L165.4,391.4 L166.2,391.5 L167.0,391.5 L167.7,391.4 L168.5,391.3 L169.3,391.1 L170.1,390.8 L170.8,390.5 L171.6,390.0 L172.4,389.4 L173.2,388.7 L174.0,387.9 L174.7,386.9 L175.5,385.9 L176.3,384.7 L177.1,383.3 L177.9,381.8 L178.6,380.2 L179.4,378.5 L180.2,376.9 L181.0,375.3 L181.8,373.7 L182.5,372.2 L183.3,370.6 L184.1,369.1 L184.9,367.6 L185.7,366.1 L186.5,364.6 L187.3,363.3 L188.0,362.1 L188.7,361.1 L189.3,360.2 L189.9,359.4 L190.5,358.8 L191.1,358.2 L191.8,357.7 L192.4,357.3 L193.1,356.9 L193.8,356.7 L194.6,356.7 L195.4,356.9 L196.3,357.2 L197.1,357.6 L198.0,358.1 L198.9,358.7 L199.8,359.3 L200.6,360.1 L201.5,360.8 L202.4,361.6 L203.3,362.2 L204.2,362.7 L205.1,363.2 L206.0,363.6 L206.9,363.9 L207.8,364.2 L208.7,364.4 L209.6,364.5 L210.4,364.6 L211.3,364.6 L212.2,364.4 L213.1,364.1 L214.0,363.7 L214.9,363.1 L215.8,362.5 L216.7,361.8 L217.6,361.0 L218.5,360.1 L219.3,359.2 L220.2,358.2 L221.1,357.3 L222.0,356.4 L222.9,355.6 L223.8,354.7 L224.7,353.9 L225.6,353.3 L226.4,352.8 L227.2,352.3 L228.0,352.0 L228.8,351.7 L229.6,351.6 L230.4,351.6 L231.2,351.7 L232.0,352.0 L232.8,352.4 L233.6,352.9 L234.3,353.6 L235.0,354.6 L235.7,355.6 L236.4,356.7 L237.1,357.8 L237.8,358.8 L238.5,359.9 L239.3,361.0 L240.0,362.1 L240.7,363.1 L241.4,364.1 L242.1,365.0 L242.7,365.8 L243.4,366.7 L244.2,367.6 L245.0,368.6 L245.9,369.7 L246.9,370.7 L247.8,371.5 L248.6,372.0 L249.3,372.0 L250.0,371.8 L250.7,371.3 L251.4,370.6 L252.1,369.8 L252.9,368.9 L253.8,367.8 L254.8,366.5 L255.7,365.2 L256.6,364.0 L257.5,362.8 L258.4,361.5 L259.3,360.2 L260.2,358.9 L261.0,357.8 L261.8,356.7 L262.5,355.7 L263.2,354.8 L263.9,354.0 L264.6,353.3 L265.3,352.7 L266.0,352.2 L266.7,351.9 L267.4,351.6 L268.1,351.6 L268.8,351.7 L269.5,352.0 L270.2,352.5 L270.9,353.1 L271.7,353.8 L272.5,354.7 L273.4,355.8 L274.3,357.1 L275.2,358.4 L276.1,359.6 L277.0,360.8 L277.9,362.1 L278.8,363.4 L279.7,364.7 L280.6,365.8 L281.5,366.8 L282.4,367.8 L283.2,368.7 L284.1,369.5 L285.0,370.2 L285.9,370.7 L286.8,371.1 L287.6,371.3 L288.5,371.5 L289.4,371.6 L290.3,371.7 L291.2,371.6 L292.1,371.5 L293.0,371.5 L293.9,371.4 L294.8,371.4 L295.6,371.3 L296.5,371.2 L297.4,371.2 L298.3,371.3 L299.3,371.4 L300.3,371.6 L301.4,371.9 L302.5,372.2 L303.5,372.6 L304.5,373.1 L305.5,373.6 L306.4,374.2 L307.4,374.8 L308.3,375.4 L309.2,376.0 L310.0,376.7 L310.9,377.3 L311.7,377.9 L312.5,378.5 L313.3,379.0 L314.1,379.6 L315.0,380.1 L315.8,380.5 L316.6,380.9 L317.5,381.3 L318.3,381.6 L319.2,381.9 L320.0,382.1 L320.8,382.1 L321.5,382.0 L322.1,381.9 L322.7,381.6 L323.3,381.2 L323.9,380.6 L324.5,379.8 L325.1,378.9 L325.8,377.8 L326.4,376.6 L327.0,375.4 L327.6,374.1 L328.3,372.6 L328.9,371.1 L329.6,369.6 L330.2,368.1 L330.8,366.6 L331.4,365.1 L332.1,363.6 L332.7,362.2 L333.3,360.8 L333.9,359.5 L334.5,358.4 L335.1,357.2 L335.7,356.2 L336.4,355.1 L337.1,354.1 L337.8,353.0 L338.5,352.1 L339.2,351.2 L340.0,350.4 L340.8,349.7 L341.7,349.1 L342.5,348.6 L343.4,348.2 L344.2,348.1 L344.9,348.2 L345.7,348.5 L346.3,349.0 L347.1,349.6 L347.8,350.4 L348.6,351.4 L349.5,352.6 L350.3,353.9 L351.2,355.3 L352.0,356.6 L352.8,358.0 L353.5,359.4 L354.2,360.8 L354.9,362.2 L355.6,363.5 L356.2,364.7 L356.8,365.8 L357.3,366.8 L357.9,367.7 L358.6,368.6 L359.4,369.4 L360.3,370.3 L361.2,371.0 L362.1,371.5 L363.0,371.8 L363.9,371.8 L364.8,371.6 L365.6,371.2 L366.5,370.6 L367.4,369.8 L368.3,368.8 L369.2,367.6 L370.1,366.3 L371.0,364.9 L371.9,363.6 L372.8,362.2 L373.6,360.8 L374.5,359.4 L375.4,358.0 L376.3,356.9 L377.3,355.9 L378.4,355.0 L379.6,354.3 L380.7,353.8 L381.7,353.5 L382.6,353.5 L383.5,353.9 L384.4,354.4 L385.2,355.0 L386.1,355.6 L387.0,356.2 L387.9,356.9 L388.8,357.7 L389.7,358.4 L390.6,359.1 L391.5,359.8 L392.4,360.5 L393.2,361.1 L394.1,361.7 L395.0,362.2 L395.9,362.6 L396.8,363.0 L397.6,363.4 L398.5,363.6 L399.4,363.6 L400.3,363.5 L401.2,363.3 L402.1,362.9 L403.0,362.4 L403.9,361.8 L404.8,360.9 L405.7,359.9 L406.6,358.7 L407.5,357.5 L408.3,356.4 L409.0,355.4 L409.7,354.4 L410.4,353.4 L411.0,352.5 L411.5,351.8 L412.0,351.2 L412.4,350.8 L412.7,350.5 L413.1,350.3 L413.5,350.0 L414.0,349.7 L414.4,349.5 L414.9,349.3 L415.5,349.2 L416.1,349.2 L416.8,349.3 L417.6,349.5 L418.5,349.9 L419.4,350.3 L420.3,350.8 L421.2,351.5 L422.1,352.3 L423.1,353.2 L424.1,354.1 L425.0,355.0 L425.9,355.8 L426.9,356.7 L427.8,357.6 L428.8,358.4 L429.7,359.2 L430.6,360.0 L431.5,360.8 L432.5,361.5 L433.4,362.2 L434.3,362.9 L435.2,363.5 L436.2,364.1 L437.1,364.7 L438.1,365.2 L439.0,365.7 L439.9,366.1 L440.9,366.5 L441.8,366.8 L442.8,367.0 L443.7,367.2 L444.6,367.2 L445.6,367.2 L446.5,367.1 L447.5,366.9 L448.4,366.7 L449.4,366.4 L450.3,366.1 L451.3,365.7 L452.2,365.4 L453.1,365.1 L453.9,364.9 L454.6,364.8 L455.4,364.7 L456.1,364.7 L456.8,364.8 L457.6,365.0 L458.3,365.3 L459.1,365.7 L459.8,366.1 L460.6,366.7 L461.3,367.4 L462.1,368.2 L462.8,369.0 L463.5,370.0 L464.3,370.9 L465.1,371.9 L465.9,372.9 L466.8,374.0 L467.6,375.0 L468.4,376.0 L469.1,376.9 L469.8,377.8 L470.5,378.6 L471.2,379.3 L471.9,380.0 L472.6,380.6 L473.3,381.2 L473.9,381.7 L474.6,382.1 L475.3,382.5 L476.0,382.8 L476.6,383.0 L477.3,383.1 L477.9,383.2 L478.7,383.2 L479.5,383.1 L480.5,382.9 L481.4,382.6 L482.4,382.4 L483.3,382.1 L484.2,381.8 L485.1,381.6 L486.0,381.3 L486.9,381.0 L487.9,380.8 L489.0,380.6 L490.1,380.5 L491.3,380.4 L492.4,380.3 L493.6,380.2 L494.7,380.2 L495.9,380.2 L497.0,380.3 L498.2,380.3 L499.3,380.3 L500.5,380.3 L501.7,380.2 L502.9,380.2 L504.0,380.1 L505.0,380.0 L505.8,379.9 L506.5,379.7 L507.1,379.5 L507.8,379.2 L508.4,378.9 L509.1,378.5 L509.8,378.0 L510.5,377.4 L511.2,376.7 L511.9,376.0 L512.6,375.2 L513.3,374.3 L513.9,373.4 L514.6,372.4 L515.3,371.4 L516.0,370.3 L516.7,369.2 L517.3,368.0 L518.0,366.9 L518.7,365.7 L519.4,364.5 L520.1,363.3 L520.8,362.2 L521.5,361.0 L522.1,360.0 L522.7,359.1 L523.3,358.2 L523.9,357.4 L524.5,356.7 L525.0,356.0 L525.5,355.3 L526.0,354.7 L526.4,354.2 L526.9,353.6 L527.5,353.1 L528.2,352.5 L528.9,351.9 L529.7,351.3 L530.4,350.8 L531.2,350.6 L532.0,350.6 L532.7,350.9 L533.5,351.3 L534.2,351.9 L535.0,352.5 L535.7,353.3 L536.5,354.2 L537.2,355.2 L538.0,356.3 L538.7,357.5 L539.5,358.7 L540.2,360.1 L541.0,361.4 L541.7,362.9 L542.5,364.3 L543.2,365.8 L544.0,367.3 L544.7,368.8 L545.5,370.3 L546.2,371.8 L546.9,373.2 L547.7,374.7 L548.4,376.1 L549.2,377.4 L549.9,378.7 L550.7,379.9 L551.4,381.1 L552.2,382.2 L552.9,383.3 L553.7,384.3 L554.4,385.3 L555.1,386.2 L555.8,387.0 L556.6,387.8 L557.4,388.6 L558.3,389.4 L559.3,390.2 L560.3,390.9 L561.4,391.5 L562.4,392.1 L563.4,392.6 L564.4,392.9 L565.4,393.2 L566.4,393.4 L567.4,393.6 L568.4,393.7 L569.5,393.7 L570.5,393.6 L571.5,393.5 L572.4,393.4 L573.2,393.3 L573.9,393.2 L574.6,393.0 L575.3,392.8 L576.0,392.6 L576.8,392.4 L577.5,392.2 L578.3,391.9 L579.1,391.6 L580.0,391.2 L580.9,390.7 L581.9,390.1 L583.0,389.5 L584.0,388.8 L585.0,388.1 L586.0,387.3 L587.0,386.5 L588.0,385.6 L589.0,384.7 L590.0,383.7 L591.0,382.7 L592.0,381.6 L593.0,380.4 L594.0,379.3 L595.0,378.1 L596.0,376.9 L597.0,375.6 L598.0,374.3 L599.0,373.0 L600.0,371.8 L601.0,370.6 L602.0,369.4 L603.1,368.2 L604.0,367.1 L605.0,366.2 L605.9,365.4 L606.8,364.7 L607.6,364.1 L608.4,363.7 L609.3,363.5 L610.2,363.6 L611.0,363.9 L611.9,364.4 L612.8,365.0 L613.7,365.6 L614.7,366.3 L615.6,367.0 L616.6,367.8 L617.7,368.6 L618.7,369.3 L619.8,369.9 L621.0,370.6 L622.1,371.1 L623.2,371.6 L624.3,371.8 L625.2,371.9 L626.1,371.8 L627.0,371.5 L627.8,371.1 L628.7,370.6 L629.7,369.9 L630.7,368.9 L631.7,367.8 L632.7,366.7 L633.7,365.6 L634.7,364.5 L635.7,363.4 L636.7,362.2 L637.7,361.1 L638.7,360.0 L639.7,358.9 L640.8,357.8 L641.9,356.8 L642.8,355.8 L643.7,355.0 L644.4,354.3 L645.1,353.7 L645.6,353.2 L646.1,352.8 L646.4,352.5" fill="none" stroke="#000" stroke-width="1.65" stroke-linejoin="round"/>
<circle cx="194.80" cy="356.80" r="2.7" fill="#ff0000"/>
<circle cx="229.60" cy="351.60" r="2.7" fill="#ff0000"/>
<circle cx="268.10" cy="351.60" r="2.7" fill="#ff0000"/>
<circle cx="344.20" cy="348.10" r="2.7" fill="#ff0000"/>
<circle cx="381.70" cy="353.50" r="2.7" fill="#ff0000"/>
<circle cx="416.10" cy="349.20" r="2.7" fill="#ff0000"/>
<circle cx="531.20" cy="350.60" r="2.7" fill="#ff0000"/>
<circle cx="609.30" cy="363.50" r="2.7" fill="#ff0000"/>
<line x1="51.20" y1="333.00" x2="51.20" y2="442.35" stroke="#222" stroke-width="1.2"/>
<line x1="47.60" y1="342.40" x2="51.20" y2="342.40" stroke="#222" stroke-width="1.2"/>
<text transform="translate(44.60,347.60) scale(1.06,1)" text-anchor="end" font-size="12.4" fill="#1a1a1a">0.5</text>
<line x1="47.60" y1="373.50" x2="51.20" y2="373.50" stroke="#222" stroke-width="1.2"/>
<text transform="translate(44.60,378.70) scale(1.06,1)" text-anchor="end" font-size="12.4" fill="#1a1a1a">0.0</text>
<line x1="47.60" y1="404.60" x2="51.20" y2="404.60" stroke="#222" stroke-width="1.2"/>
<text transform="translate(44.60,409.80) scale(1.06,1)" text-anchor="end" font-size="12.4" fill="#1a1a1a">−0.5</text>
<line x1="47.60" y1="435.70" x2="51.20" y2="435.70" stroke="#222" stroke-width="1.2"/>
<text transform="translate(44.60,440.90) scale(1.06,1)" text-anchor="end" font-size="12.4" fill="#1a1a1a">−1.0</text>
<text x="363" y="326.20" text-anchor="middle" font-size="11.3" fill="#1a1a1a">Piano</text>
<line x1="50.65" y1="442.20" x2="675" y2="442.20" stroke="#000" stroke-width="1.1"/>
<line x1="79.40" y1="441.80" x2="79.40" y2="446.00" stroke="#222" stroke-width="1.2"/>
<text x="79.40" y="458.40" text-anchor="middle" font-size="12" fill="#1a1a1a">0</text>
<line x1="117.20" y1="441.80" x2="117.20" y2="446.00" stroke="#222" stroke-width="1.2"/>
<text x="117.20" y="458.40" text-anchor="middle" font-size="12" fill="#1a1a1a">1</text>
<line x1="155.00" y1="441.80" x2="155.00" y2="446.00" stroke="#222" stroke-width="1.2"/>
<text x="155.00" y="458.40" text-anchor="middle" font-size="12" fill="#1a1a1a">2</text>
<line x1="192.80" y1="441.80" x2="192.80" y2="446.00" stroke="#222" stroke-width="1.2"/>
<text x="192.80" y="458.40" text-anchor="middle" font-size="12" fill="#1a1a1a">3</text>
<line x1="230.60" y1="441.80" x2="230.60" y2="446.00" stroke="#222" stroke-width="1.2"/>
<text x="230.60" y="458.40" text-anchor="middle" font-size="12" fill="#1a1a1a">4</text>
<line x1="268.40" y1="441.80" x2="268.40" y2="446.00" stroke="#222" stroke-width="1.2"/>
<text x="268.40" y="458.40" text-anchor="middle" font-size="12" fill="#1a1a1a">5</text>
<line x1="306.20" y1="441.80" x2="306.20" y2="446.00" stroke="#222" stroke-width="1.2"/>
<text x="306.20" y="458.40" text-anchor="middle" font-size="12" fill="#1a1a1a">6</text>
<line x1="344.00" y1="441.80" x2="344.00" y2="446.00" stroke="#222" stroke-width="1.2"/>
<text x="344.00" y="458.40" text-anchor="middle" font-size="12" fill="#1a1a1a">7</text>
<line x1="381.80" y1="441.80" x2="381.80" y2="446.00" stroke="#222" stroke-width="1.2"/>
<text x="381.80" y="458.40" text-anchor="middle" font-size="12" fill="#1a1a1a">8</text>
<line x1="419.60" y1="441.80" x2="419.60" y2="446.00" stroke="#222" stroke-width="1.2"/>
<text x="419.60" y="458.40" text-anchor="middle" font-size="12" fill="#1a1a1a">9</text>
<line x1="457.40" y1="441.80" x2="457.40" y2="446.00" stroke="#222" stroke-width="1.2"/>
<text x="457.40" y="458.40" text-anchor="middle" font-size="12" fill="#1a1a1a">10</text>
<line x1="495.20" y1="441.80" x2="495.20" y2="446.00" stroke="#222" stroke-width="1.2"/>
<text x="495.20" y="458.40" text-anchor="middle" font-size="12" fill="#1a1a1a">11</text>
<line x1="533.00" y1="441.80" x2="533.00" y2="446.00" stroke="#222" stroke-width="1.2"/>
<text x="533.00" y="458.40" text-anchor="middle" font-size="12" fill="#1a1a1a">12</text>
<line x1="570.80" y1="441.80" x2="570.80" y2="446.00" stroke="#222" stroke-width="1.2"/>
<text x="570.80" y="458.40" text-anchor="middle" font-size="12" fill="#1a1a1a">13</text>
<line x1="608.60" y1="441.80" x2="608.60" y2="446.00" stroke="#222" stroke-width="1.2"/>
<text x="608.60" y="458.40" text-anchor="middle" font-size="12" fill="#1a1a1a">14</text>
<line x1="646.40" y1="441.80" x2="646.40" y2="446.00" stroke="#222" stroke-width="1.2"/>
<text x="646.40" y="458.40" text-anchor="middle" font-size="12" fill="#1a1a1a">15</text>
<text x="363" y="474.6" text-anchor="middle" font-size="13.6" fill="#000">Interval (semitones)</text>
<text transform="translate(11.3,232.2) rotate(-90)" text-anchor="middle" font-size="13.4" fill="#000">Pleasantness</text>
</svg>
</body></html>
